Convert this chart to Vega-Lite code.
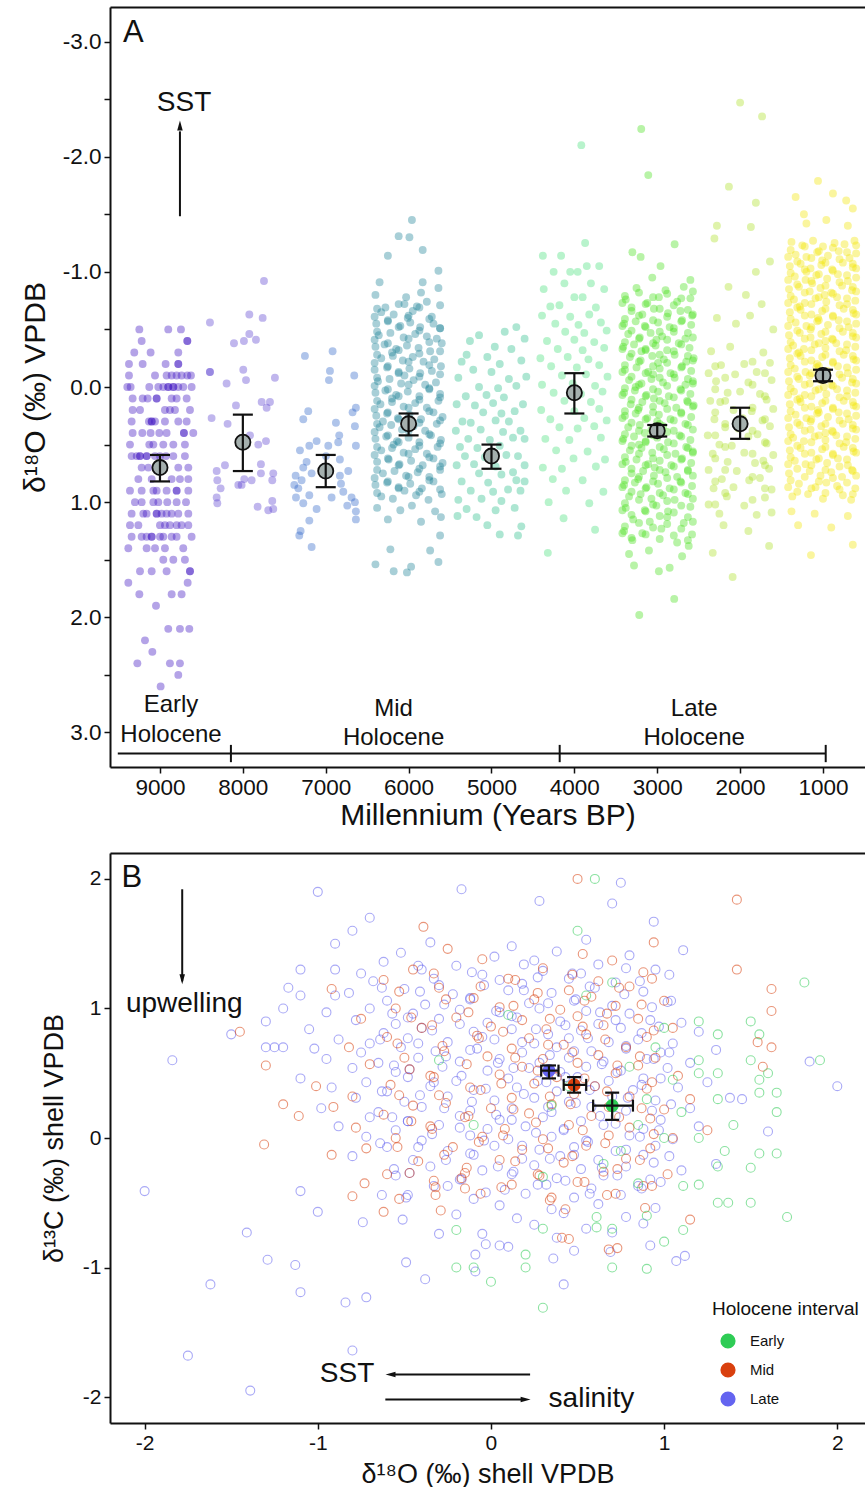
{
"$schema":"https://vega.github.io/schema/vega-lite/v6.json",
"padding":{"left":20,"top":7,"right":0,"bottom":0},
"background":"white",
"config":{"font":"Liberation Sans","view":{"stroke":null},
"axis":{"grid":false,"domainColor":"#111","domainWidth":2,"tickColor":"#111","tickWidth":1.5,"tickSize":6,"labelColor":"#111","titleColor":"#111","labelFontSize":20,"titleFontSize":27,"titleFontWeight":"normal","labelPadding":3,"labelFont":"Liberation Sans","titleFont":"Liberation Sans"},
"legend":{"labelFont":"Liberation Sans","titleFont":"Liberation Sans"}},
"datasets":{
"pa":[
{"m":9,"x":9249,"y":-0.5},{"m":9,"x":8900,"y":-0.5},{"m":9,"x":8747,"y":-0.5},
{"m":9,"x":9221,"y":-0.4},{"m":9,"x":8670,"y":-0.4},{"m":9,"x":8670,"y":-0.4},
{"m":9,"x":9310,"y":-0.3},{"m":9,"x":9113,"y":-0.3},{"m":9,"x":8779,"y":-0.3},
{"m":9,"x":9374,"y":-0.2},{"m":9,"x":9209,"y":-0.2},{"m":9,"x":8932,"y":-0.2},{"m":9,"x":8779,"y":-0.2},{"m":9,"x":8779,"y":-0.2},
{"m":9,"x":9374,"y":-0.1},{"m":9,"x":9060,"y":-0.1},{"m":9,"x":8920,"y":-0.1},{"m":9,"x":8859,"y":-0.1},{"m":9,"x":8799,"y":-0.1},{"m":9,"x":8739,"y":-0.1},{"m":9,"x":8670,"y":-0.1},{"m":9,"x":8626,"y":-0.1},
{"m":9,"x":9394,"y":0},{"m":9,"x":9354,"y":0},{"m":9,"x":9129,"y":0},{"m":9,"x":9020,"y":0},{"m":9,"x":8960,"y":0},{"m":9,"x":8900,"y":0},{"m":9,"x":8900,"y":0},{"m":9,"x":8839,"y":0},{"m":9,"x":8839,"y":0},{"m":9,"x":8779,"y":0},{"m":9,"x":8719,"y":0},{"m":9,"x":8618,"y":0},
{"m":9,"x":9330,"y":0.1},{"m":9,"x":9209,"y":0.1},{"m":9,"x":9149,"y":0.1},{"m":9,"x":9040,"y":0.1},{"m":9,"x":9040,"y":0.1},{"m":9,"x":8859,"y":0.1},{"m":9,"x":8799,"y":0.1},{"m":9,"x":8678,"y":0.1},
{"m":9,"x":9330,"y":0.2},{"m":9,"x":9241,"y":0.2},{"m":9,"x":8940,"y":0.2},{"m":9,"x":8880,"y":0.2},{"m":9,"x":8819,"y":0.2},{"m":9,"x":8638,"y":0.2},
{"m":9,"x":9342,"y":0.3},{"m":9,"x":9133,"y":0.3},{"m":9,"x":9100,"y":0.3},{"m":9,"x":9100,"y":0.3},{"m":9,"x":9060,"y":0.3},{"m":9,"x":8940,"y":0.3},{"m":9,"x":8779,"y":0.3},{"m":9,"x":8678,"y":0.3},
{"m":9,"x":9330,"y":0.4},{"m":9,"x":9213,"y":0.4},{"m":9,"x":9113,"y":0.4},{"m":9,"x":9008,"y":0.4},{"m":9,"x":8920,"y":0.4},{"m":9,"x":8711,"y":0.4},{"m":9,"x":8711,"y":0.4},{"m":9,"x":8598,"y":0.4},
{"m":9,"x":9362,"y":0.5},{"m":9,"x":9129,"y":0.5},{"m":9,"x":9080,"y":0.5},{"m":9,"x":8960,"y":0.5},{"m":9,"x":8839,"y":0.5},{"m":9,"x":8699,"y":0.5},
{"m":9,"x":9342,"y":0.6},{"m":9,"x":9281,"y":0.6},{"m":9,"x":9241,"y":0.6},{"m":9,"x":9241,"y":0.6},{"m":9,"x":9161,"y":0.6},{"m":9,"x":9161,"y":0.6},{"m":9,"x":9060,"y":0.6},{"m":9,"x":9000,"y":0.6},{"m":9,"x":8928,"y":0.6},{"m":9,"x":8839,"y":0.6},{"m":9,"x":8699,"y":0.6},
{"m":9,"x":9221,"y":0.7},{"m":9,"x":9141,"y":0.7},{"m":9,"x":8779,"y":0.7},{"m":9,"x":8658,"y":0.7},
{"m":9,"x":9261,"y":0.8},{"m":9,"x":9100,"y":0.8},{"m":9,"x":8859,"y":0.8},{"m":9,"x":8759,"y":0.8},{"m":9,"x":8658,"y":0.8},
{"m":9,"x":9362,"y":0.9},{"m":9,"x":9221,"y":0.9},{"m":9,"x":9080,"y":0.9},{"m":9,"x":9040,"y":0.9},{"m":9,"x":8920,"y":0.9},{"m":9,"x":8799,"y":0.9},{"m":9,"x":8799,"y":0.9},{"m":9,"x":8658,"y":0.9},
{"m":9,"x":9302,"y":1.0},{"m":9,"x":9221,"y":1.0},{"m":9,"x":9080,"y":1.0},{"m":9,"x":9020,"y":1.0},{"m":9,"x":8912,"y":1.0},{"m":9,"x":8799,"y":1.0},{"m":9,"x":8686,"y":1.0},
{"m":9,"x":9342,"y":1.1},{"m":9,"x":9201,"y":1.1},{"m":9,"x":9161,"y":1.1},{"m":9,"x":9040,"y":1.1},{"m":9,"x":9040,"y":1.1},{"m":9,"x":8980,"y":1.1},{"m":9,"x":8920,"y":1.1},{"m":9,"x":8859,"y":1.1},{"m":9,"x":8779,"y":1.1},{"m":9,"x":8658,"y":1.1},
{"m":9,"x":9362,"y":1.2},{"m":9,"x":9261,"y":1.2},{"m":9,"x":9000,"y":1.2},{"m":9,"x":8940,"y":1.2},{"m":9,"x":8880,"y":1.2},{"m":9,"x":8799,"y":1.2},{"m":9,"x":8739,"y":1.2},{"m":9,"x":8658,"y":1.2},
{"m":9,"x":9342,"y":1.3},{"m":9,"x":9221,"y":1.3},{"m":9,"x":9161,"y":1.3},{"m":9,"x":9100,"y":1.3},{"m":9,"x":9100,"y":1.3},{"m":9,"x":9000,"y":1.3},{"m":9,"x":8960,"y":1.3},{"m":9,"x":8859,"y":1.3},{"m":9,"x":8799,"y":1.3},{"m":9,"x":8618,"y":1.3},
{"m":9,"x":9382,"y":1.4},{"m":9,"x":9161,"y":1.4},{"m":9,"x":9060,"y":1.4},{"m":9,"x":8940,"y":1.4},{"m":9,"x":8719,"y":1.4},
{"m":9,"x":8960,"y":1.5},{"m":9,"x":8839,"y":1.5},{"m":9,"x":8699,"y":1.5},
{"m":9,"x":9241,"y":1.6},{"m":9,"x":9100,"y":1.6},{"m":9,"x":8920,"y":1.6},{"m":9,"x":8638,"y":1.6},{"m":9,"x":8638,"y":1.6},
{"m":9,"x":9382,"y":1.7},{"m":9,"x":8666,"y":1.7},
{"m":9,"x":9249,"y":1.8},{"m":9,"x":8859,"y":1.8},{"m":9,"x":8739,"y":1.8},
{"m":9,"x":9048,"y":1.9},
{"m":9,"x":8900,"y":2.1},{"m":9,"x":8759,"y":2.1},{"m":9,"x":8646,"y":2.1},
{"m":9,"x":9181,"y":2.2},{"m":9,"x":9092,"y":2.3},
{"m":9,"x":9273,"y":2.4},{"m":9,"x":8880,"y":2.4},{"m":9,"x":8759,"y":2.4},
{"m":9,"x":8779,"y":2.5},{"m":9,"x":8992,"y":2.6},
{"m":8,"x":8397,"y":-0.56},{"m":8,"x":7922,"y":-0.63},{"m":8,"x":7761,"y":-0.6},{"m":8,"x":8107,"y":-0.38},{"m":8,"x":7987,"y":-0.4},{"m":8,"x":7922,"y":-0.46},{"m":8,"x":7842,"y":-0.41},{"m":8,"x":8397,"y":-0.13},{"m":8,"x":8397,"y":-0.13},{"m":8,"x":7995,"y":-0.15},{"m":8,"x":7962,"y":-0.06},{"m":8,"x":7613,"y":-0.08},{"m":8,"x":8196,"y":-0.03},{"m":8,"x":8083,"y":0.16},{"m":8,"x":7773,"y":0.13},{"m":8,"x":7673,"y":0.13},{"m":8,"x":7713,"y":0.18},{"m":8,"x":8377,"y":0.27},{"m":8,"x":8184,"y":0.32},{"m":8,"x":7914,"y":0.42},{"m":8,"x":7814,"y":0.5},{"m":8,"x":7721,"y":0.47},{"m":8,"x":7782,"y":0.67},{"m":8,"x":8216,"y":0.68},{"m":8,"x":8316,"y":0.73},{"m":8,"x":7633,"y":0.75},{"m":8,"x":7983,"y":0.8},{"m":8,"x":7894,"y":0.81},{"m":8,"x":8055,"y":0.85},{"m":8,"x":8308,"y":0.81},{"m":8,"x":8268,"y":0.88},{"m":8,"x":7645,"y":0.81},{"m":8,"x":7782,"y":0.75},{"m":8,"x":8316,"y":0.96},{"m":8,"x":8308,"y":1.01},{"m":8,"x":7645,"y":0.99},{"m":8,"x":7822,"y":1.04},{"m":8,"x":7693,"y":1.07},{"m":8,"x":7633,"y":1.06},{"m":8,"x":8015,"y":0.85},{"m":8,"x":7745,"y":-0.92},
{"m":7,"x":7251,"y":-0.27},{"m":7,"x":6917,"y":-0.31},{"m":7,"x":6949,"y":-0.14},{"m":7,"x":6961,"y":-0.06},{"m":7,"x":6656,"y":-0.1},{"m":7,"x":6636,"y":0.18},{"m":7,"x":6676,"y":0.22},{"m":7,"x":7211,"y":0.21},{"m":7,"x":7271,"y":0.28},{"m":7,"x":6877,"y":0.31},{"m":7,"x":6648,"y":0.34},{"m":7,"x":6837,"y":0.42},{"m":7,"x":7110,"y":0.47},{"m":7,"x":7198,"y":0.51},{"m":7,"x":6969,"y":0.51},{"m":7,"x":6636,"y":0.51},{"m":7,"x":6849,"y":0.48},{"m":7,"x":7311,"y":0.55},{"m":7,"x":7231,"y":0.65},{"m":7,"x":7271,"y":0.7},{"m":7,"x":6829,"y":0.63},{"m":7,"x":6728,"y":0.73},{"m":7,"x":7363,"y":0.77},{"m":7,"x":7291,"y":0.81},{"m":7,"x":7170,"y":0.75},{"m":7,"x":7379,"y":0.85},{"m":7,"x":7331,"y":0.88},{"m":7,"x":6816,"y":0.84},{"m":7,"x":6788,"y":0.91},{"m":7,"x":7198,"y":0.94},{"m":7,"x":7359,"y":0.96},{"m":7,"x":6929,"y":0.96},{"m":7,"x":6688,"y":0.96},{"m":7,"x":7271,"y":1.01},{"m":7,"x":6740,"y":1.03},{"m":7,"x":6648,"y":1.0},{"m":7,"x":7110,"y":1.06},{"m":7,"x":6636,"y":1.08},{"m":7,"x":6636,"y":1.15},{"m":7,"x":7198,"y":1.16},{"m":7,"x":7303,"y":1.25},{"m":7,"x":7319,"y":1.29},{"m":7,"x":7170,"y":1.39},{"m":7,"x":6829,"y":0.77},{"m":7,"x":6997,"y":0.6},
{"m":6,"x":5960,"y":-1.45},{"m":6,"x":6120,"y":-1.31},{"m":6,"x":5990,"y":-1.3},{"m":6,"x":5830,"y":-1.19},{"m":6,"x":6250,"y":-1.14},{"m":6,"x":5640,"y":-1.01},{"m":6,"x":5830,"y":-0.91},{"m":6,"x":6350,"y":-0.91},{"m":6,"x":5640,"y":-0.86},{"m":6,"x":6400,"y":-0.8},{"m":6,"x":5850,"y":-0.82},{"m":6,"x":6030,"y":-0.78},
{"m":6,"x":6050,"y":-0.72},{"m":6,"x":5900,"y":-0.7},{"m":6,"x":5780,"y":-0.74},{"m":6,"x":6280,"y":-0.69},
{"m":6,"x":6330,"y":-0.65},{"m":6,"x":6180,"y":-0.63},{"m":6,"x":5950,"y":-0.66},{"m":6,"x":5720,"y":-0.61},{"m":6,"x":6010,"y":-0.6},
{"m":6,"x":6390,"y":-0.55},{"m":6,"x":6250,"y":-0.57},{"m":6,"x":6100,"y":-0.53},{"m":6,"x":5980,"y":-0.56},{"m":6,"x":5860,"y":-0.52},{"m":6,"x":5700,"y":-0.55},{"m":6,"x":5620,"y":-0.51},
{"m":6,"x":6360,"y":-0.45},{"m":6,"x":6220,"y":-0.47},{"m":6,"x":6060,"y":-0.43},{"m":6,"x":5920,"y":-0.46},{"m":6,"x":5780,"y":-0.44},{"m":6,"x":5660,"y":-0.42},
{"m":6,"x":6400,"y":-0.35},{"m":6,"x":6290,"y":-0.37},{"m":6,"x":6150,"y":-0.33},{"m":6,"x":6020,"y":-0.36},{"m":6,"x":5880,"y":-0.34},{"m":6,"x":5740,"y":-0.31},{"m":6,"x":5600,"y":-0.38},{"m":6,"x":6200,"y":-0.3},
{"m":6,"x":6330,"y":-0.25},{"m":6,"x":6190,"y":-0.27},{"m":6,"x":6070,"y":-0.23},{"m":6,"x":5950,"y":-0.26},{"m":6,"x":5820,"y":-0.22},{"m":6,"x":5690,"y":-0.24},
{"m":6,"x":6410,"y":-0.15},{"m":6,"x":6260,"y":-0.17},{"m":6,"x":6120,"y":-0.13},{"m":6,"x":5990,"y":-0.16},{"m":6,"x":5860,"y":-0.12},{"m":6,"x":5720,"y":-0.14},{"m":6,"x":5610,"y":-0.18},{"m":6,"x":6050,"y":-0.1},
{"m":6,"x":6370,"y":-0.05},{"m":6,"x":6230,"y":-0.07},{"m":6,"x":6090,"y":-0.03},{"m":6,"x":5940,"y":-0.06},{"m":6,"x":5800,"y":-0.02},{"m":6,"x":5670,"y":-0.04},
{"m":6,"x":6400,"y":0.05},{"m":6,"x":6280,"y":0.03},{"m":6,"x":6150,"y":0.07},{"m":6,"x":6010,"y":0.04},{"m":6,"x":5870,"y":0.08},{"m":6,"x":5750,"y":0.02},{"m":6,"x":5620,"y":0.06},{"m":6,"x":6200,"y":0.1},
{"m":6,"x":6340,"y":0.15},{"m":6,"x":6200,"y":0.13},{"m":6,"x":6060,"y":0.17},{"m":6,"x":5920,"y":0.14},{"m":6,"x":5780,"y":0.18},{"m":6,"x":5640,"y":0.12},
{"m":6,"x":6390,"y":0.25},{"m":6,"x":6260,"y":0.23},{"m":6,"x":6130,"y":0.27},{"m":6,"x":5990,"y":0.24},{"m":6,"x":5850,"y":0.28},{"m":6,"x":5700,"y":0.22},{"m":6,"x":5590,"y":0.26},{"m":6,"x":6310,"y":0.3},
{"m":6,"x":6350,"y":0.35},{"m":6,"x":6210,"y":0.33},{"m":6,"x":6080,"y":0.37},{"m":6,"x":5940,"y":0.34},{"m":6,"x":5800,"y":0.38},{"m":6,"x":5660,"y":0.32},
{"m":6,"x":6400,"y":0.45},{"m":6,"x":6270,"y":0.43},{"m":6,"x":6140,"y":0.47},{"m":6,"x":6000,"y":0.44},{"m":6,"x":5870,"y":0.48},{"m":6,"x":5730,"y":0.42},{"m":6,"x":5610,"y":0.46},{"m":6,"x":6180,"y":0.5},
{"m":6,"x":6330,"y":0.55},{"m":6,"x":6200,"y":0.53},{"m":6,"x":6060,"y":0.57},{"m":6,"x":5920,"y":0.54},{"m":6,"x":5780,"y":0.58},{"m":6,"x":5650,"y":0.52},
{"m":6,"x":6380,"y":0.65},{"m":6,"x":6240,"y":0.63},{"m":6,"x":6110,"y":0.67},{"m":6,"x":5970,"y":0.64},{"m":6,"x":5830,"y":0.68},{"m":6,"x":5700,"y":0.62},{"m":6,"x":5590,"y":0.66},
{"m":6,"x":6310,"y":0.75},{"m":6,"x":6170,"y":0.73},{"m":6,"x":6030,"y":0.77},{"m":6,"x":5890,"y":0.74},{"m":6,"x":5750,"y":0.78},{"m":6,"x":5620,"y":0.72},
{"m":6,"x":6400,"y":0.85},{"m":6,"x":6260,"y":0.83},{"m":6,"x":6120,"y":0.87},{"m":6,"x":5980,"y":0.84},{"m":6,"x":5840,"y":0.88},{"m":6,"x":5700,"y":0.82},{"m":6,"x":6050,"y":0.9},
{"m":6,"x":6330,"y":0.95},{"m":6,"x":6190,"y":0.97},{"m":6,"x":5910,"y":0.94},{"m":6,"x":5760,"y":0.98},{"m":6,"x":5600,"y":0.93},
{"m":6,"x":6380,"y":1.05},{"m":6,"x":6100,"y":1.07},{"m":6,"x":5960,"y":1.03},{"m":6,"x":5680,"y":1.08},
{"m":6,"x":6250,"y":1.15},{"m":6,"x":5850,"y":1.17},{"m":6,"x":5610,"y":1.13},
{"m":6,"x":5620,"y":1.29},{"m":6,"x":6220,"y":1.41},{"m":6,"x":5740,"y":1.42},{"m":6,"x":5640,"y":1.52},{"m":6,"x":6400,"y":1.54},{"m":6,"x":5970,"y":1.56},{"m":6,"x":6180,"y":1.6},{"m":6,"x":6020,"y":1.61},
{"m":6,"x":6380,"y":-0.68},{"m":6,"x":6120,"y":-0.72},{"m":6,"x":5870,"y":-0.69},{"m":6,"x":5620,"y":-0.71},
{"m":6,"x":6250,"y":-0.58},{"m":6,"x":6000,"y":-0.62},{"m":6,"x":5750,"y":-0.59},{"m":6,"x":6410,"y":-0.61},
{"m":6,"x":6380,"y":-0.48},{"m":6,"x":6120,"y":-0.52},{"m":6,"x":5870,"y":-0.49},{"m":6,"x":5620,"y":-0.51},
{"m":6,"x":6250,"y":-0.38},{"m":6,"x":6000,"y":-0.42},{"m":6,"x":5750,"y":-0.39},{"m":6,"x":6410,"y":-0.41},
{"m":6,"x":6380,"y":-0.28},{"m":6,"x":6120,"y":-0.32},{"m":6,"x":5870,"y":-0.29},{"m":6,"x":5620,"y":-0.31},
{"m":6,"x":6250,"y":-0.18},{"m":6,"x":6000,"y":-0.22},{"m":6,"x":5750,"y":-0.19},{"m":6,"x":6410,"y":-0.21},
{"m":6,"x":6380,"y":-0.08},{"m":6,"x":6120,"y":-0.12},{"m":6,"x":5870,"y":-0.09},{"m":6,"x":5620,"y":-0.11},
{"m":6,"x":6250,"y":0.02},{"m":6,"x":6000,"y":-0.02},{"m":6,"x":5750,"y":0.01},{"m":6,"x":6410,"y":-0.01},
{"m":6,"x":6380,"y":0.12},{"m":6,"x":6120,"y":0.08},{"m":6,"x":5870,"y":0.11},{"m":6,"x":5620,"y":0.09},
{"m":6,"x":6250,"y":0.22},{"m":6,"x":6000,"y":0.18},{"m":6,"x":5750,"y":0.21},{"m":6,"x":6410,"y":0.19},
{"m":6,"x":6380,"y":0.32},{"m":6,"x":6120,"y":0.28},{"m":6,"x":5870,"y":0.31},{"m":6,"x":5620,"y":0.29},
{"m":6,"x":6250,"y":0.42},{"m":6,"x":6000,"y":0.38},{"m":6,"x":5750,"y":0.41},{"m":6,"x":6410,"y":0.39},
{"m":6,"x":6380,"y":0.52},{"m":6,"x":6120,"y":0.48},{"m":6,"x":5870,"y":0.51},{"m":6,"x":5620,"y":0.49},
{"m":6,"x":6250,"y":0.62},{"m":6,"x":6000,"y":0.58},{"m":6,"x":5750,"y":0.61},{"m":6,"x":6410,"y":0.59},
{"m":6,"x":6380,"y":0.72},{"m":6,"x":6120,"y":0.68},{"m":6,"x":5870,"y":0.71},{"m":6,"x":5620,"y":0.69},
{"m":6,"x":6250,"y":0.82},{"m":6,"x":6000,"y":0.78},{"m":6,"x":5750,"y":0.81},{"m":6,"x":6410,"y":0.79},
{"m":6,"x":6380,"y":0.92},{"m":6,"x":6120,"y":0.88},{"m":6,"x":5870,"y":0.91},{"m":6,"x":5620,"y":0.89},
{"m":5,"x":4700,"y":-0.52},{"m":5,"x":4840,"y":-0.48},{"m":5,"x":5150,"y":-0.45},{"m":5,"x":5260,"y":-0.4},{"m":5,"x":4600,"y":-0.42},{"m":5,"x":4960,"y":-0.35},{"m":5,"x":4760,"y":-0.33},{"m":5,"x":5300,"y":-0.28},{"m":5,"x":5050,"y":-0.26},{"m":5,"x":5360,"y":-0.22},{"m":5,"x":4900,"y":-0.2},{"m":5,"x":4640,"y":-0.23},{"m":5,"x":5220,"y":-0.15},{"m":5,"x":5000,"y":-0.13},{"m":5,"x":5400,"y":-0.08},{"m":5,"x":4790,"y":-0.07},{"m":5,"x":4580,"y":-0.09},{"m":5,"x":5150,"y":0},{"m":5,"x":4920,"y":0.01},{"m":5,"x":4700,"y":-0.01},{"m":5,"x":5310,"y":0.08},{"m":5,"x":5060,"y":0.07},{"m":5,"x":4850,"y":0.09},{"m":5,"x":5420,"y":0.15},{"m":5,"x":5200,"y":0.16},{"m":5,"x":4980,"y":0.14},{"m":5,"x":4620,"y":0.15},{"m":5,"x":5100,"y":0.22},{"m":5,"x":4880,"y":0.23},{"m":5,"x":4720,"y":0.21},{"m":5,"x":5350,"y":0.3},{"m":5,"x":5250,"y":0.31},{"m":5,"x":4950,"y":0.29},{"m":5,"x":4790,"y":0.3},{"m":5,"x":5430,"y":0.38},{"m":5,"x":5130,"y":0.37},{"m":5,"x":4860,"y":0.39},{"m":5,"x":4650,"y":0.38},{"m":5,"x":5280,"y":0.45},{"m":5,"x":5020,"y":0.46},{"m":5,"x":4740,"y":0.44},{"m":5,"x":4600,"y":0.45},{"m":5,"x":5380,"y":0.52},{"m":5,"x":5170,"y":0.53},{"m":5,"x":4900,"y":0.51},{"m":5,"x":5320,"y":0.6},{"m":5,"x":5080,"y":0.61},{"m":5,"x":4820,"y":0.59},{"m":5,"x":4680,"y":0.6},{"m":5,"x":5420,"y":0.68},{"m":5,"x":5210,"y":0.67},{"m":5,"x":4950,"y":0.69},{"m":5,"x":4600,"y":0.68},{"m":5,"x":5150,"y":0.75},{"m":5,"x":4880,"y":0.76},{"m":5,"x":4740,"y":0.74},{"m":5,"x":5360,"y":0.82},{"m":5,"x":5040,"y":0.83},{"m":5,"x":4700,"y":0.81},{"m":5,"x":4600,"y":0.82},{"m":5,"x":5250,"y":0.9},{"m":5,"x":4980,"y":0.91},{"m":5,"x":4800,"y":0.89},{"m":5,"x":4650,"y":0.9},{"m":5,"x":5400,"y":0.98},{"m":5,"x":5120,"y":0.97},{"m":5,"x":4880,"y":0.99},{"m":5,"x":5300,"y":1.06},{"m":5,"x":4950,"y":1.07},{"m":5,"x":4720,"y":1.05},{"m":5,"x":5410,"y":1.12},{"m":5,"x":5180,"y":1.13},{"m":5,"x":5050,"y":1.2},{"m":5,"x":4640,"y":1.21},{"m":5,"x":4900,"y":1.28},{"m":5,"x":4680,"y":1.29},
{"m":4,"x":3916,"y":-2.1},{"m":4,"x":3870,"y":-1.25},{"m":4,"x":4380,"y":-1.14},{"m":4,"x":4160,"y":-1.14},{"m":4,"x":3850,"y":-1.05},{"m":4,"x":3700,"y":-1.05},{"m":4,"x":4250,"y":-1.0},{"m":4,"x":4050,"y":-1.0},{"m":4,"x":3960,"y":-1.0},{"m":4,"x":4120,"y":-0.9},{"m":4,"x":3800,"y":-0.9},{"m":4,"x":4370,"y":-0.85},{"m":4,"x":3640,"y":-0.85},{"m":4,"x":4000,"y":-0.78},{"m":4,"x":3900,"y":-0.78},{"m":4,"x":4290,"y":-0.7},{"m":4,"x":4180,"y":-0.71},{"m":4,"x":3740,"y":-0.69},{"m":4,"x":4390,"y":-0.62},{"m":4,"x":4050,"y":-0.61},{"m":4,"x":3820,"y":-0.63},{"m":4,"x":4230,"y":-0.55},{"m":4,"x":3950,"y":-0.54},{"m":4,"x":3680,"y":-0.56},{"m":4,"x":4110,"y":-0.48},{"m":4,"x":3880,"y":-0.47},{"m":4,"x":3610,"y":-0.49},{"m":4,"x":4330,"y":-0.4},{"m":4,"x":4000,"y":-0.41},{"m":4,"x":3760,"y":-0.39},{"m":4,"x":4200,"y":-0.33},{"m":4,"x":3900,"y":-0.32},{"m":4,"x":3640,"y":-0.34},{"m":4,"x":4410,"y":-0.25},{"m":4,"x":4080,"y":-0.26},{"m":4,"x":3830,"y":-0.24},{"m":4,"x":4280,"y":-0.18},{"m":4,"x":3970,"y":-0.17},{"m":4,"x":3700,"y":-0.19},{"m":4,"x":4150,"y":-0.1},{"m":4,"x":3860,"y":-0.11},{"m":4,"x":3600,"y":-0.09},{"m":4,"x":4390,"y":-0.02},{"m":4,"x":4020,"y":-0.03},{"m":4,"x":3750,"y":-0.01},{"m":4,"x":4250,"y":0.05},{"m":4,"x":3920,"y":0.06},{"m":4,"x":3660,"y":0.04},{"m":4,"x":4120,"y":0.12},{"m":4,"x":3800,"y":0.13},{"m":4,"x":4400,"y":0.2},{"m":4,"x":4000,"y":0.21},{"m":4,"x":3700,"y":0.19},{"m":4,"x":4290,"y":0.28},{"m":4,"x":3880,"y":0.27},{"m":4,"x":3610,"y":0.29},{"m":4,"x":4180,"y":0.35},{"m":4,"x":3960,"y":0.36},{"m":4,"x":3760,"y":0.34},{"m":4,"x":4350,"y":0.45},{"m":4,"x":4060,"y":0.46},{"m":4,"x":3680,"y":0.44},{"m":4,"x":4220,"y":0.55},{"m":4,"x":3840,"y":0.56},{"m":4,"x":4010,"y":0.62},{"m":4,"x":3630,"y":0.63},{"m":4,"x":4380,"y":0.7},{"m":4,"x":4150,"y":0.71},{"m":4,"x":3740,"y":0.69},{"m":4,"x":4260,"y":0.8},{"m":4,"x":3900,"y":0.81},{"m":4,"x":4100,"y":0.9},{"m":4,"x":3650,"y":0.91},{"m":4,"x":4310,"y":1.0},{"m":4,"x":3820,"y":1.01},{"m":4,"x":4130,"y":1.14},{"m":4,"x":3750,"y":1.24},{"m":4,"x":4320,"y":1.44},
{"m":3,"x":3193,"y":-2.24},{"m":3,"x":3108,"y":-1.84},{"m":3,"x":2790,"y":-1.24},{"m":3,"x":3300,"y":-1.17},{"m":3,"x":3200,"y":-1.13},{"m":3,"x":2960,"y":-1.05},{"m":3,"x":3060,"y":-0.95},{"m":3,"x":2600,"y":-0.93},{"m":3,"x":3217,"y":1.98},{"m":3,"x":2795,"y":1.84},{"m":3,"x":2980,"y":1.6},{"m":3,"x":3280,"y":1.55},{"m":3,"x":2850,"y":1.57},{"m":3,"x":3340,"y":1.45},{"m":3,"x":2700,"y":1.47},{"m":3,"x":3100,"y":1.42},{"m":3,"x":2620,"y":1.38},
{"m":3,"x":3250,"y":-0.86},{"m":3,"x":2900,"y":-0.84},{"m":3,"x":2680,"y":-0.87},
{"m":3,"x":3380,"y":-0.76},{"m":3,"x":3120,"y":-0.73},{"m":3,"x":2980,"y":-0.78},{"m":3,"x":2760,"y":-0.74},{"m":3,"x":2600,"y":-0.77},
{"m":3,"x":3310,"y":-0.66},{"m":3,"x":3180,"y":-0.63},{"m":3,"x":3040,"y":-0.68},{"m":3,"x":2870,"y":-0.64},{"m":3,"x":2720,"y":-0.66},{"m":3,"x":2580,"y":-0.62},
{"m":3,"x":3400,"y":-0.55},{"m":3,"x":3260,"y":-0.57},{"m":3,"x":3150,"y":-0.53},{"m":3,"x":2990,"y":-0.56},{"m":3,"x":2850,"y":-0.52},{"m":3,"x":2700,"y":-0.58},{"m":3,"x":2590,"y":-0.54},
{"m":3,"x":3350,"y":-0.46},{"m":3,"x":3210,"y":-0.43},{"m":3,"x":3080,"y":-0.47},{"m":3,"x":2940,"y":-0.44},{"m":3,"x":2800,"y":-0.48},{"m":3,"x":2660,"y":-0.42},{"m":3,"x":3010,"y":-0.41},
{"m":3,"x":3410,"y":-0.35},{"m":3,"x":3280,"y":-0.37},{"m":3,"x":3140,"y":-0.33},{"m":3,"x":3020,"y":-0.36},{"m":3,"x":2880,"y":-0.32},{"m":3,"x":2740,"y":-0.38},{"m":3,"x":2610,"y":-0.34},{"m":3,"x":3190,"y":-0.31},
{"m":3,"x":3330,"y":-0.26},{"m":3,"x":3200,"y":-0.23},{"m":3,"x":3060,"y":-0.27},{"m":3,"x":2920,"y":-0.24},{"m":3,"x":2790,"y":-0.28},{"m":3,"x":2650,"y":-0.22},{"m":3,"x":2560,"y":-0.25},{"m":3,"x":2990,"y":-0.21},
{"m":3,"x":3390,"y":-0.15},{"m":3,"x":3250,"y":-0.17},{"m":3,"x":3110,"y":-0.13},{"m":3,"x":2970,"y":-0.16},{"m":3,"x":2840,"y":-0.12},{"m":3,"x":2700,"y":-0.18},{"m":3,"x":2590,"y":-0.14},{"m":3,"x":3050,"y":-0.11},
{"m":3,"x":3340,"y":-0.06},{"m":3,"x":3190,"y":-0.03},{"m":3,"x":3070,"y":-0.07},{"m":3,"x":2930,"y":-0.04},{"m":3,"x":2790,"y":-0.08},{"m":3,"x":2660,"y":-0.02},{"m":3,"x":2570,"y":-0.05},{"m":3,"x":3260,"y":0},
{"m":3,"x":3400,"y":0.05},{"m":3,"x":3270,"y":0.03},{"m":3,"x":3130,"y":0.07},{"m":3,"x":2990,"y":0.04},{"m":3,"x":2860,"y":0.08},{"m":3,"x":2720,"y":0.02},{"m":3,"x":2600,"y":0.06},{"m":3,"x":3040,"y":0.1},
{"m":3,"x":3320,"y":0.15},{"m":3,"x":3180,"y":0.13},{"m":3,"x":3050,"y":0.17},{"m":3,"x":2910,"y":0.14},{"m":3,"x":2770,"y":0.18},{"m":3,"x":2640,"y":0.12},{"m":3,"x":2560,"y":0.16},{"m":3,"x":3230,"y":0.2},
{"m":3,"x":3390,"y":0.25},{"m":3,"x":3260,"y":0.23},{"m":3,"x":3120,"y":0.27},{"m":3,"x":2980,"y":0.24},{"m":3,"x":2840,"y":0.28},{"m":3,"x":2710,"y":0.22},{"m":3,"x":2590,"y":0.26},{"m":3,"x":3000,"y":0.3},
{"m":3,"x":3350,"y":0.35},{"m":3,"x":3210,"y":0.33},{"m":3,"x":3070,"y":0.37},{"m":3,"x":2930,"y":0.34},{"m":3,"x":2800,"y":0.38},{"m":3,"x":2660,"y":0.32},{"m":3,"x":3150,"y":0.4},
{"m":3,"x":3410,"y":0.45},{"m":3,"x":3280,"y":0.43},{"m":3,"x":3140,"y":0.47},{"m":3,"x":3000,"y":0.44},{"m":3,"x":2870,"y":0.48},{"m":3,"x":2730,"y":0.42},{"m":3,"x":2600,"y":0.46},{"m":3,"x":3220,"y":0.5},
{"m":3,"x":3330,"y":0.55},{"m":3,"x":3190,"y":0.53},{"m":3,"x":3060,"y":0.57},{"m":3,"x":2920,"y":0.54},{"m":3,"x":2780,"y":0.58},{"m":3,"x":2650,"y":0.52},{"m":3,"x":2570,"y":0.56},
{"m":3,"x":3380,"y":0.65},{"m":3,"x":3250,"y":0.63},{"m":3,"x":3110,"y":0.67},{"m":3,"x":2970,"y":0.64},{"m":3,"x":2830,"y":0.68},{"m":3,"x":2700,"y":0.62},{"m":3,"x":2590,"y":0.66},{"m":3,"x":3030,"y":0.7},
{"m":3,"x":3310,"y":0.75},{"m":3,"x":3170,"y":0.73},{"m":3,"x":3040,"y":0.77},{"m":3,"x":2900,"y":0.74},{"m":3,"x":2760,"y":0.78},{"m":3,"x":2630,"y":0.72},{"m":3,"x":3230,"y":0.8},
{"m":3,"x":3400,"y":0.85},{"m":3,"x":3270,"y":0.83},{"m":3,"x":3130,"y":0.87},{"m":3,"x":2990,"y":0.84},{"m":3,"x":2850,"y":0.88},{"m":3,"x":2720,"y":0.82},{"m":3,"x":2580,"y":0.86},
{"m":3,"x":3340,"y":0.95},{"m":3,"x":3200,"y":0.93},{"m":3,"x":3070,"y":0.97},{"m":3,"x":2930,"y":0.94},{"m":3,"x":2790,"y":0.98},{"m":3,"x":2660,"y":0.92},
{"m":3,"x":3380,"y":1.05},{"m":3,"x":3150,"y":1.07},{"m":3,"x":3010,"y":1.03},{"m":3,"x":2870,"y":1.08},{"m":3,"x":2600,"y":1.04},
{"m":3,"x":3290,"y":1.15},{"m":3,"x":3090,"y":1.17},{"m":3,"x":2880,"y":1.13},{"m":3,"x":2680,"y":1.18},
{"m":3,"x":3400,"y":1.25},{"m":3,"x":3180,"y":1.27},{"m":3,"x":2950,"y":1.23},{"m":3,"x":2580,"y":1.28},
{"m":3,"x":3300,"y":1.33},{"m":3,"x":2760,"y":1.35},
{"m":3,"x":3390,"y":-0.79},{"m":3,"x":3220,"y":-0.82},{"m":3,"x":3050,"y":-0.78},{"m":3,"x":2880,"y":-0.81},{"m":3,"x":2710,"y":-0.77},{"m":3,"x":2570,"y":-0.83},
{"m":3,"x":3310,"y":-0.69},{"m":3,"x":3140,"y":-0.72},{"m":3,"x":2970,"y":-0.68},{"m":3,"x":2800,"y":-0.71},{"m":3,"x":2630,"y":-0.67},{"m":3,"x":3420,"y":-0.73},
{"m":3,"x":3390,"y":-0.59},{"m":3,"x":3220,"y":-0.62},{"m":3,"x":3050,"y":-0.58},{"m":3,"x":2880,"y":-0.61},{"m":3,"x":2710,"y":-0.57},{"m":3,"x":2570,"y":-0.63},
{"m":3,"x":3310,"y":-0.49},{"m":3,"x":3140,"y":-0.52},{"m":3,"x":2970,"y":-0.48},{"m":3,"x":2800,"y":-0.51},{"m":3,"x":2630,"y":-0.47},{"m":3,"x":3420,"y":-0.53},
{"m":3,"x":3390,"y":-0.39},{"m":3,"x":3220,"y":-0.42},{"m":3,"x":3050,"y":-0.38},{"m":3,"x":2880,"y":-0.41},{"m":3,"x":2710,"y":-0.37},{"m":3,"x":2570,"y":-0.43},
{"m":3,"x":3310,"y":-0.29},{"m":3,"x":3140,"y":-0.32},{"m":3,"x":2970,"y":-0.28},{"m":3,"x":2800,"y":-0.31},{"m":3,"x":2630,"y":-0.27},{"m":3,"x":3420,"y":-0.33},
{"m":3,"x":3390,"y":-0.19},{"m":3,"x":3220,"y":-0.22},{"m":3,"x":3050,"y":-0.18},{"m":3,"x":2880,"y":-0.21},{"m":3,"x":2710,"y":-0.17},{"m":3,"x":2570,"y":-0.23},
{"m":3,"x":3310,"y":-0.09},{"m":3,"x":3140,"y":-0.12},{"m":3,"x":2970,"y":-0.08},{"m":3,"x":2800,"y":-0.11},{"m":3,"x":2630,"y":-0.07},{"m":3,"x":3420,"y":-0.13},
{"m":3,"x":3390,"y":0.01},{"m":3,"x":3220,"y":-0.02},{"m":3,"x":3050,"y":0.02},{"m":3,"x":2880,"y":-0.01},{"m":3,"x":2710,"y":0.03},{"m":3,"x":2570,"y":-0.03},
{"m":3,"x":3310,"y":0.11},{"m":3,"x":3140,"y":0.08},{"m":3,"x":2970,"y":0.12},{"m":3,"x":2800,"y":0.09},{"m":3,"x":2630,"y":0.13},{"m":3,"x":3420,"y":0.07},
{"m":3,"x":3390,"y":0.21},{"m":3,"x":3220,"y":0.18},{"m":3,"x":3050,"y":0.22},{"m":3,"x":2880,"y":0.19},{"m":3,"x":2710,"y":0.23},{"m":3,"x":2570,"y":0.17},
{"m":3,"x":3310,"y":0.31},{"m":3,"x":3140,"y":0.28},{"m":3,"x":2970,"y":0.32},{"m":3,"x":2800,"y":0.29},{"m":3,"x":2630,"y":0.33},{"m":3,"x":3420,"y":0.27},
{"m":3,"x":3390,"y":0.41},{"m":3,"x":3220,"y":0.38},{"m":3,"x":3050,"y":0.42},{"m":3,"x":2880,"y":0.39},{"m":3,"x":2710,"y":0.43},{"m":3,"x":2570,"y":0.37},
{"m":3,"x":3310,"y":0.51},{"m":3,"x":3140,"y":0.48},{"m":3,"x":2970,"y":0.52},{"m":3,"x":2800,"y":0.49},{"m":3,"x":2630,"y":0.53},{"m":3,"x":3420,"y":0.47},
{"m":3,"x":3390,"y":0.61},{"m":3,"x":3220,"y":0.58},{"m":3,"x":3050,"y":0.62},{"m":3,"x":2880,"y":0.59},{"m":3,"x":2710,"y":0.63},{"m":3,"x":2570,"y":0.57},
{"m":3,"x":3310,"y":0.71},{"m":3,"x":3140,"y":0.68},{"m":3,"x":2970,"y":0.72},{"m":3,"x":2800,"y":0.69},{"m":3,"x":2630,"y":0.73},{"m":3,"x":3420,"y":0.67},
{"m":3,"x":3390,"y":0.81},{"m":3,"x":3220,"y":0.78},{"m":3,"x":3050,"y":0.82},{"m":3,"x":2880,"y":0.79},{"m":3,"x":2710,"y":0.83},{"m":3,"x":2570,"y":0.77},
{"m":3,"x":3310,"y":0.91},{"m":3,"x":3140,"y":0.88},{"m":3,"x":2970,"y":0.92},{"m":3,"x":2800,"y":0.89},{"m":3,"x":2630,"y":0.93},{"m":3,"x":3420,"y":0.87},
{"m":3,"x":3390,"y":1.01},{"m":3,"x":3220,"y":0.98},{"m":3,"x":3050,"y":1.02},{"m":3,"x":2880,"y":0.99},{"m":3,"x":2710,"y":1.03},{"m":3,"x":2570,"y":0.97},
{"m":3,"x":3310,"y":1.11},{"m":3,"x":3140,"y":1.08},{"m":3,"x":2970,"y":1.12},{"m":3,"x":2800,"y":1.09},{"m":3,"x":2630,"y":1.13},{"m":3,"x":3420,"y":1.07},
{"m":3,"x":3390,"y":1.21},{"m":3,"x":3220,"y":1.18},{"m":3,"x":3050,"y":1.22},{"m":3,"x":2880,"y":1.19},{"m":3,"x":2710,"y":1.23},{"m":3,"x":2570,"y":1.17},
{"m":3,"x":3310,"y":1.31},{"m":3,"x":3140,"y":1.28},{"m":3,"x":2970,"y":1.32},{"m":3,"x":2800,"y":1.29},{"m":3,"x":2630,"y":1.33},{"m":3,"x":3420,"y":1.27},
{"m":2,"x":2000,"y":-2.47},{"m":2,"x":1735,"y":-2.35},{"m":2,"x":2135,"y":-1.74},{"m":2,"x":1810,"y":-1.6},{"m":2,"x":2280,"y":-1.4},{"m":2,"x":1870,"y":-1.39},{"m":2,"x":2310,"y":-1.29},{"m":2,"x":1640,"y":-1.09},{"m":2,"x":1810,"y":-1.0},{"m":2,"x":2140,"y":-0.87},{"m":2,"x":1930,"y":-0.8},{"m":2,"x":1740,"y":-0.72},{"m":2,"x":2280,"y":-0.6},{"m":2,"x":1880,"y":-0.62},{"m":2,"x":2050,"y":-0.55},{"m":2,"x":1600,"y":-0.5},{"m":2,"x":2330,"y":1.44},{"m":2,"x":2090,"y":1.65},{"m":2,"x":1650,"y":1.38},{"m":2,"x":1900,"y":1.25},{"m":2,"x":2200,"y":1.2},
{"m":2,"x":2120,"y":-0.35},{"m":2,"x":1720,"y":-0.3},{"m":2,"x":2350,"y":-0.31},{"m":2,"x":1950,"y":-0.2},{"m":2,"x":1640,"y":-0.21},{"m":2,"x":2230,"y":-0.19},{"m":2,"x":2380,"y":-0.12},{"m":2,"x":2060,"y":-0.11},{"m":2,"x":1800,"y":-0.13},{"m":2,"x":2290,"y":-0.05},{"m":2,"x":1900,"y":-0.04},{"m":2,"x":1620,"y":-0.06},{"m":2,"x":2150,"y":0.05},{"m":2,"x":1760,"y":0.06},{"m":2,"x":2000,"y":0.04},{"m":2,"x":2360,"y":0.12},{"m":2,"x":2240,"y":0.13},{"m":2,"x":1680,"y":0.11},{"m":2,"x":2080,"y":0.2},{"m":2,"x":1860,"y":0.21},{"m":2,"x":1600,"y":0.19},{"m":2,"x":2310,"y":0.28},{"m":2,"x":1970,"y":0.27},{"m":2,"x":1730,"y":0.29},{"m":2,"x":2180,"y":0.35},{"m":2,"x":2020,"y":0.36},{"m":2,"x":1640,"y":0.34},{"m":2,"x":2390,"y":0.42},{"m":2,"x":1900,"y":0.43},{"m":2,"x":1790,"y":0.41},{"m":2,"x":2250,"y":0.5},{"m":2,"x":2100,"y":0.51},{"m":2,"x":1680,"y":0.49},{"m":2,"x":2330,"y":0.58},{"m":2,"x":1950,"y":0.57},{"m":2,"x":1600,"y":0.59},{"m":2,"x":2150,"y":0.65},{"m":2,"x":1820,"y":0.66},{"m":2,"x":1720,"y":0.64},{"m":2,"x":2380,"y":0.72},{"m":2,"x":2040,"y":0.73},{"m":2,"x":1650,"y":0.71},{"m":2,"x":2220,"y":0.8},{"m":2,"x":1890,"y":0.81},{"m":2,"x":1760,"y":0.79},{"m":2,"x":2320,"y":0.88},{"m":2,"x":2080,"y":0.87},{"m":2,"x":1620,"y":0.89},{"m":2,"x":2160,"y":0.95},{"m":2,"x":1700,"y":0.96},{"m":2,"x":2380,"y":1.02},{"m":2,"x":1950,"y":1.03},{"m":2,"x":2250,"y":1.1},{"m":2,"x":1800,"y":1.11},{"m":2,"x":1620,"y":1.09},
{"m":2,"x":2300,"y":-0.18},{"m":2,"x":1850,"y":-0.22},{"m":2,"x":2180,"y":-0.08},{"m":2,"x":1700,"y":-0.12},{"m":2,"x":2300,"y":0.02},{"m":2,"x":1850,"y":-0.02},{"m":2,"x":2180,"y":0.12},{"m":2,"x":1700,"y":0.08},{"m":2,"x":2300,"y":0.22},{"m":2,"x":1850,"y":0.18},{"m":2,"x":2180,"y":0.32},{"m":2,"x":1700,"y":0.28},{"m":2,"x":2300,"y":0.42},{"m":2,"x":1850,"y":0.38},{"m":2,"x":2180,"y":0.52},{"m":2,"x":1700,"y":0.48},{"m":2,"x":2300,"y":0.62},{"m":2,"x":1850,"y":0.58},{"m":2,"x":2180,"y":0.72},{"m":2,"x":1700,"y":0.68},{"m":2,"x":2300,"y":0.82},{"m":2,"x":1850,"y":0.78},{"m":2,"x":2180,"y":0.92},{"m":2,"x":1700,"y":0.88},{"m":2,"x":2300,"y":1.02},{"m":2,"x":1850,"y":0.98},
{"m":1,"x":1060,"y":-1.79},{"m":1,"x":880,"y":-1.68},{"m":1,"x":1330,"y":-1.65},{"m":1,"x":720,"y":-1.62},{"m":1,"x":640,"y":-1.55},{"m":1,"x":1230,"y":-1.5},{"m":1,"x":1200,"y":-1.42},{"m":1,"x":700,"y":-1.4},{"m":1,"x":960,"y":-1.45},{"m":1,"x":1145,"y":1.46},{"m":1,"x":640,"y":1.37},{"m":1,"x":1300,"y":1.2},{"m":1,"x":900,"y":1.22},{"m":1,"x":1100,"y":1.1},{"m":1,"x":700,"y":1.12},{"m":1,"x":1380,"y":1.08},
{"m":1,"x":1380,"y":-1.26},{"m":1,"x":1250,"y":-1.23},{"m":1,"x":1120,"y":-1.27},{"m":1,"x":1000,"y":-1.22},{"m":1,"x":860,"y":-1.25},{"m":1,"x":740,"y":-1.24},{"m":1,"x":620,"y":-1.27},
{"m":1,"x":1330,"y":-1.15},{"m":1,"x":1200,"y":-1.13},{"m":1,"x":1070,"y":-1.17},{"m":1,"x":940,"y":-1.14},{"m":1,"x":810,"y":-1.18},{"m":1,"x":680,"y":-1.12},{"m":1,"x":600,"y":-1.16},{"m":1,"x":1010,"y":-1.1},
{"m":1,"x":1400,"y":-1.05},{"m":1,"x":1270,"y":-1.07},{"m":1,"x":1150,"y":-1.03},{"m":1,"x":1020,"y":-1.06},{"m":1,"x":890,"y":-1.02},{"m":1,"x":760,"y":-1.08},{"m":1,"x":640,"y":-1.04},{"m":1,"x":1200,"y":-1.0},
{"m":1,"x":1340,"y":-0.96},{"m":1,"x":1210,"y":-0.93},{"m":1,"x":1080,"y":-0.97},{"m":1,"x":950,"y":-0.94},{"m":1,"x":820,"y":-0.98},{"m":1,"x":700,"y":-0.92},{"m":1,"x":600,"y":-0.95},{"m":1,"x":1130,"y":-0.9},
{"m":1,"x":1410,"y":-0.85},{"m":1,"x":1290,"y":-0.87},{"m":1,"x":1160,"y":-0.83},{"m":1,"x":1030,"y":-0.86},{"m":1,"x":900,"y":-0.82},{"m":1,"x":770,"y":-0.88},{"m":1,"x":650,"y":-0.84},{"m":1,"x":980,"y":-0.8},
{"m":1,"x":1350,"y":-0.76},{"m":1,"x":1220,"y":-0.73},{"m":1,"x":1090,"y":-0.77},{"m":1,"x":960,"y":-0.74},{"m":1,"x":830,"y":-0.78},{"m":1,"x":710,"y":-0.72},{"m":1,"x":610,"y":-0.75},{"m":1,"x":1280,"y":-0.7},
{"m":1,"x":1400,"y":-0.65},{"m":1,"x":1270,"y":-0.67},{"m":1,"x":1140,"y":-0.63},{"m":1,"x":1010,"y":-0.66},{"m":1,"x":880,"y":-0.62},{"m":1,"x":750,"y":-0.68},{"m":1,"x":630,"y":-0.64},{"m":1,"x":1060,"y":-0.6},
{"m":1,"x":1330,"y":-0.56},{"m":1,"x":1200,"y":-0.53},{"m":1,"x":1070,"y":-0.57},{"m":1,"x":940,"y":-0.54},{"m":1,"x":810,"y":-0.58},{"m":1,"x":690,"y":-0.52},{"m":1,"x":600,"y":-0.55},{"m":1,"x":1150,"y":-0.5},
{"m":1,"x":1410,"y":-0.45},{"m":1,"x":1280,"y":-0.47},{"m":1,"x":1150,"y":-0.43},{"m":1,"x":1020,"y":-0.46},{"m":1,"x":890,"y":-0.42},{"m":1,"x":760,"y":-0.48},{"m":1,"x":640,"y":-0.44},{"m":1,"x":970,"y":-0.4},
{"m":1,"x":1360,"y":-0.36},{"m":1,"x":1230,"y":-0.33},{"m":1,"x":1100,"y":-0.37},{"m":1,"x":970,"y":-0.34},{"m":1,"x":840,"y":-0.38},{"m":1,"x":720,"y":-0.32},{"m":1,"x":610,"y":-0.35},{"m":1,"x":1290,"y":-0.3},
{"m":1,"x":1400,"y":-0.25},{"m":1,"x":1270,"y":-0.27},{"m":1,"x":1140,"y":-0.23},{"m":1,"x":1010,"y":-0.26},{"m":1,"x":880,"y":-0.22},{"m":1,"x":750,"y":-0.28},{"m":1,"x":630,"y":-0.24},{"m":1,"x":1070,"y":-0.2},
{"m":1,"x":1340,"y":-0.16},{"m":1,"x":1210,"y":-0.13},{"m":1,"x":1080,"y":-0.17},{"m":1,"x":950,"y":-0.14},{"m":1,"x":820,"y":-0.18},{"m":1,"x":700,"y":-0.12},{"m":1,"x":600,"y":-0.15},{"m":1,"x":1160,"y":-0.1},
{"m":1,"x":1410,"y":-0.05},{"m":1,"x":1290,"y":-0.07},{"m":1,"x":1160,"y":-0.03},{"m":1,"x":1030,"y":-0.06},{"m":1,"x":900,"y":-0.02},{"m":1,"x":770,"y":-0.08},{"m":1,"x":650,"y":-0.04},{"m":1,"x":990,"y":0},
{"m":1,"x":1350,"y":0.04},{"m":1,"x":1220,"y":0.07},{"m":1,"x":1090,"y":0.03},{"m":1,"x":960,"y":0.06},{"m":1,"x":830,"y":0.02},{"m":1,"x":710,"y":0.08},{"m":1,"x":610,"y":0.05},{"m":1,"x":1280,"y":0.1},
{"m":1,"x":1400,"y":0.15},{"m":1,"x":1270,"y":0.13},{"m":1,"x":1140,"y":0.17},{"m":1,"x":1010,"y":0.14},{"m":1,"x":880,"y":0.18},{"m":1,"x":750,"y":0.12},{"m":1,"x":630,"y":0.16},{"m":1,"x":1060,"y":0.2},
{"m":1,"x":1330,"y":0.24},{"m":1,"x":1200,"y":0.27},{"m":1,"x":1070,"y":0.23},{"m":1,"x":940,"y":0.26},{"m":1,"x":810,"y":0.22},{"m":1,"x":690,"y":0.28},{"m":1,"x":600,"y":0.25},{"m":1,"x":1150,"y":0.3},
{"m":1,"x":1410,"y":0.35},{"m":1,"x":1280,"y":0.33},{"m":1,"x":1150,"y":0.37},{"m":1,"x":1020,"y":0.34},{"m":1,"x":890,"y":0.38},{"m":1,"x":760,"y":0.32},{"m":1,"x":640,"y":0.36},{"m":1,"x":970,"y":0.4},
{"m":1,"x":1360,"y":0.44},{"m":1,"x":1230,"y":0.47},{"m":1,"x":1100,"y":0.43},{"m":1,"x":970,"y":0.46},{"m":1,"x":840,"y":0.42},{"m":1,"x":720,"y":0.48},{"m":1,"x":610,"y":0.45},
{"m":1,"x":1400,"y":0.55},{"m":1,"x":1270,"y":0.53},{"m":1,"x":1140,"y":0.57},{"m":1,"x":1010,"y":0.54},{"m":1,"x":880,"y":0.58},{"m":1,"x":750,"y":0.52},{"m":1,"x":630,"y":0.56},
{"m":1,"x":1340,"y":0.64},{"m":1,"x":1210,"y":0.67},{"m":1,"x":1080,"y":0.63},{"m":1,"x":950,"y":0.66},{"m":1,"x":820,"y":0.62},{"m":1,"x":700,"y":0.68},
{"m":1,"x":1410,"y":0.75},{"m":1,"x":1160,"y":0.73},{"m":1,"x":1030,"y":0.77},{"m":1,"x":900,"y":0.74},{"m":1,"x":770,"y":0.78},{"m":1,"x":650,"y":0.72},
{"m":1,"x":1290,"y":0.84},{"m":1,"x":1090,"y":0.87},{"m":1,"x":960,"y":0.83},{"m":1,"x":830,"y":0.86},{"m":1,"x":610,"y":0.88},
{"m":1,"x":1370,"y":0.95},{"m":1,"x":1180,"y":0.93},{"m":1,"x":1000,"y":0.97},{"m":1,"x":760,"y":0.94},{"m":1,"x":660,"y":0.98},
{"m":1,"x":1390,"y":-1.19},{"m":1,"x":1220,"y":-1.22},{"m":1,"x":1050,"y":-1.18},{"m":1,"x":880,"y":-1.21},{"m":1,"x":710,"y":-1.17},{"m":1,"x":600,"y":-1.23},
{"m":1,"x":1310,"y":-1.09},{"m":1,"x":1140,"y":-1.12},{"m":1,"x":970,"y":-1.08},{"m":1,"x":800,"y":-1.11},{"m":1,"x":640,"y":-1.07},{"m":1,"x":1420,"y":-1.13},
{"m":1,"x":1390,"y":-0.99},{"m":1,"x":1220,"y":-1.02},{"m":1,"x":1050,"y":-0.98},{"m":1,"x":880,"y":-1.01},{"m":1,"x":710,"y":-0.97},{"m":1,"x":600,"y":-1.03},
{"m":1,"x":1310,"y":-0.89},{"m":1,"x":1140,"y":-0.92},{"m":1,"x":970,"y":-0.88},{"m":1,"x":800,"y":-0.91},{"m":1,"x":640,"y":-0.87},{"m":1,"x":1420,"y":-0.93},
{"m":1,"x":1390,"y":-0.79},{"m":1,"x":1220,"y":-0.82},{"m":1,"x":1050,"y":-0.78},{"m":1,"x":880,"y":-0.81},{"m":1,"x":710,"y":-0.77},{"m":1,"x":600,"y":-0.83},
{"m":1,"x":1310,"y":-0.69},{"m":1,"x":1140,"y":-0.72},{"m":1,"x":970,"y":-0.68},{"m":1,"x":800,"y":-0.71},{"m":1,"x":640,"y":-0.67},{"m":1,"x":1420,"y":-0.73},
{"m":1,"x":1390,"y":-0.59},{"m":1,"x":1220,"y":-0.62},{"m":1,"x":1050,"y":-0.58},{"m":1,"x":880,"y":-0.61},{"m":1,"x":710,"y":-0.57},{"m":1,"x":600,"y":-0.63},
{"m":1,"x":1310,"y":-0.49},{"m":1,"x":1140,"y":-0.52},{"m":1,"x":970,"y":-0.48},{"m":1,"x":800,"y":-0.51},{"m":1,"x":640,"y":-0.47},{"m":1,"x":1420,"y":-0.53},
{"m":1,"x":1390,"y":-0.39},{"m":1,"x":1220,"y":-0.42},{"m":1,"x":1050,"y":-0.38},{"m":1,"x":880,"y":-0.41},{"m":1,"x":710,"y":-0.37},{"m":1,"x":600,"y":-0.43},
{"m":1,"x":1310,"y":-0.29},{"m":1,"x":1140,"y":-0.32},{"m":1,"x":970,"y":-0.28},{"m":1,"x":800,"y":-0.31},{"m":1,"x":640,"y":-0.27},{"m":1,"x":1420,"y":-0.33},
{"m":1,"x":1390,"y":-0.19},{"m":1,"x":1220,"y":-0.22},{"m":1,"x":1050,"y":-0.18},{"m":1,"x":880,"y":-0.21},{"m":1,"x":710,"y":-0.17},{"m":1,"x":600,"y":-0.23},
{"m":1,"x":1310,"y":-0.09},{"m":1,"x":1140,"y":-0.12},{"m":1,"x":970,"y":-0.08},{"m":1,"x":800,"y":-0.11},{"m":1,"x":640,"y":-0.07},{"m":1,"x":1420,"y":-0.13},
{"m":1,"x":1390,"y":0.01},{"m":1,"x":1220,"y":-0.02},{"m":1,"x":1050,"y":0.02},{"m":1,"x":880,"y":-0.01},{"m":1,"x":710,"y":0.03},{"m":1,"x":600,"y":-0.03},
{"m":1,"x":1310,"y":0.11},{"m":1,"x":1140,"y":0.08},{"m":1,"x":970,"y":0.12},{"m":1,"x":800,"y":0.09},{"m":1,"x":640,"y":0.13},{"m":1,"x":1420,"y":0.07},
{"m":1,"x":1390,"y":0.21},{"m":1,"x":1220,"y":0.18},{"m":1,"x":1050,"y":0.22},{"m":1,"x":880,"y":0.19},{"m":1,"x":710,"y":0.23},{"m":1,"x":600,"y":0.17},
{"m":1,"x":1310,"y":0.31},{"m":1,"x":1140,"y":0.28},{"m":1,"x":970,"y":0.32},{"m":1,"x":800,"y":0.29},{"m":1,"x":640,"y":0.33},{"m":1,"x":1420,"y":0.27},
{"m":1,"x":1390,"y":0.41},{"m":1,"x":1220,"y":0.38},{"m":1,"x":1050,"y":0.42},{"m":1,"x":880,"y":0.39},{"m":1,"x":710,"y":0.43},{"m":1,"x":600,"y":0.37},
{"m":1,"x":1310,"y":0.51},{"m":1,"x":1140,"y":0.48},{"m":1,"x":970,"y":0.52},{"m":1,"x":800,"y":0.49},{"m":1,"x":640,"y":0.53},{"m":1,"x":1420,"y":0.47},
{"m":1,"x":1390,"y":0.61},{"m":1,"x":1220,"y":0.58},{"m":1,"x":1050,"y":0.62},{"m":1,"x":880,"y":0.59},{"m":1,"x":710,"y":0.63},{"m":1,"x":600,"y":0.57},
{"m":1,"x":1310,"y":0.71},{"m":1,"x":1140,"y":0.68},{"m":1,"x":970,"y":0.72},{"m":1,"x":800,"y":0.69},{"m":1,"x":640,"y":0.73},{"m":1,"x":1420,"y":0.67},
{"m":1,"x":1390,"y":0.81},{"m":1,"x":1220,"y":0.78},{"m":1,"x":1050,"y":0.82},{"m":1,"x":880,"y":0.79},{"m":1,"x":710,"y":0.83},{"m":1,"x":600,"y":0.77},
{"m":1,"x":1310,"y":0.91},{"m":1,"x":1140,"y":0.88},{"m":1,"x":970,"y":0.92},{"m":1,"x":800,"y":0.89},{"m":1,"x":640,"y":0.93},{"m":1,"x":1420,"y":0.87}
],
"sa":[{"x":9000,"mean":0.7,"lo":0.59,"hi":0.82},{"x":8000,"mean":0.48,"lo":0.24,"hi":0.73},{"x":7000,"mean":0.73,"lo":0.59,"hi":0.87},{"x":6000,"mean":0.32,"lo":0.23,"hi":0.42},{"x":5000,"mean":0.6,"lo":0.5,"hi":0.71},{"x":4000,"mean":0.05,"lo":-0.12,"hi":0.23},{"x":3000,"mean":0.38,"lo":0.33,"hi":0.43},{"x":2000,"mean":0.32,"lo":0.18,"hi":0.45},{"x":1000,"mean":-0.1,"lo":-0.15,"hi":-0.05}],
"pb":[
{"g":"Late","x":-2.0,"y":-0.41},{"g":"Late","x":-1.75,"y":-1.68},{"g":"Late","x":-1.62,"y":-1.13},{"g":"Late","x":-1.39,"y":-1.95},{"g":"Late","x":-1.41,"y":-0.73},{"g":"Late","x":-1.29,"y":-0.94},{"g":"Late","x":-1.13,"y":-0.98},{"g":"Late","x":-1.1,"y":-1.19},{"g":"Late","x":-1.1,"y":-0.41},{"g":"Late","x":-1.0,"y":-0.57},{"g":"Late","x":-0.84,"y":-1.27},{"g":"Late","x":-0.72,"y":-1.23},{"g":"Late","x":-0.8,"y":-1.64},{"g":"Late","x":-0.74,"y":-0.65},{"g":"Late","x":-0.51,"y":-0.63},{"g":"Late","x":-0.49,"y":-0.96},{"g":"Late","x":-0.38,"y":-1.09},{"g":"Late","x":-0.49,"y":-0.46},{"g":"Late","x":-0.3,"y":-0.74},{"g":"Late","x":-0.03,"y":-0.82},{"g":"Late","x":-0.09,"y":-0.9},{"g":"Late","x":-0.09,"y":-1.03},{"g":"Late","x":0.42,"y":-1.13},{"g":"Late","x":1.12,"y":-0.91},{"g":"Late","x":1.07,"y":-0.95},{"g":"Late","x":0.36,"y":-0.93},{"g":"Late","x":0.05,"y":-0.83},{"g":"Late","x":0.69,"y":-0.88},
{"g":"Late","x":-1.0,"y":1.9},{"g":"Late","x":-0.17,"y":1.92},{"g":"Late","x":0.28,"y":1.83},{"g":"Late","x":0.75,"y":1.97},{"g":"Late","x":0.7,"y":1.81},{"g":"Late","x":-0.7,"y":1.7},{"g":"Late","x":-0.8,"y":1.6},{"g":"Late","x":-0.9,"y":1.5},{"g":"Late","x":0.94,"y":1.67},{"g":"Late","x":1.11,"y":1.45},{"g":"Late","x":-1.1,"y":1.3},{"g":"Late","x":-0.9,"y":1.3},{"g":"Late","x":-1.17,"y":1.16},{"g":"Late","x":-1.1,"y":1.1},{"g":"Late","x":-0.9,"y":1.1},{"g":"Late","x":-1.2,"y":1.0},{"g":"Late","x":-1.3,"y":0.9},{"g":"Late","x":-1.5,"y":0.8},{"g":"Late","x":-1.84,"y":0.6},{"g":"Late","x":-1.3,"y":0.7},{"g":"Late","x":-1.25,"y":0.7},{"g":"Late","x":-1.2,"y":0.7},{"g":"Late","x":2.0,"y":0.4},{"g":"Late","x":1.84,"y":0.59},{"g":"Late","x":1.45,"y":0.3},{"g":"Late","x":1.6,"y":0.05},{"g":"Late","x":1.3,"y":-0.2},
{"g":"Late","x":-0.35,"y":1.51},{"g":"Late","x":0.12,"y":1.48},{"g":"Late","x":0.55,"y":1.53},
{"g":"Late","x":-0.52,"y":1.43},{"g":"Late","x":0.02,"y":1.4},{"g":"Late","x":0.38,"y":1.44},{"g":"Late","x":0.8,"y":1.41},
{"g":"Late","x":-0.62,"y":1.36},{"g":"Late","x":-0.2,"y":1.33},{"g":"Late","x":0.25,"y":1.37},{"g":"Late","x":0.62,"y":1.34},
{"g":"Late","x":-0.75,"y":1.27},{"g":"Late","x":-0.4,"y":1.3},{"g":"Late","x":-0.05,"y":1.26},{"g":"Late","x":0.3,"y":1.29},{"g":"Late","x":0.52,"y":1.27},{"g":"Late","x":0.95,"y":1.3},
{"g":"Late","x":-0.68,"y":1.21},{"g":"Late","x":-0.3,"y":1.18},{"g":"Late","x":0.05,"y":1.22},{"g":"Late","x":0.18,"y":1.19},{"g":"Late","x":0.45,"y":1.23},{"g":"Late","x":0.72,"y":1.2},
{"g":"Late","x":-0.82,"y":1.12},{"g":"Late","x":-0.5,"y":1.15},{"g":"Late","x":-0.22,"y":1.11},{"g":"Late","x":0.1,"y":1.14},{"g":"Late","x":0.35,"y":1.12},{"g":"Late","x":0.6,"y":1.16},{"g":"Late","x":0.88,"y":1.13},
{"g":"Late","x":-0.6,"y":1.06},{"g":"Late","x":-0.38,"y":1.03},{"g":"Late","x":-0.12,"y":1.07},{"g":"Late","x":0.22,"y":1.04},{"g":"Late","x":0.48,"y":1.06},{"g":"Late","x":0.7,"y":1.02},{"g":"Late","x":1.02,"y":1.05},
{"g":"Late","x":-0.95,"y":0.97},{"g":"Late","x":-0.7,"y":1.0},{"g":"Late","x":-0.45,"y":0.96},{"g":"Late","x":-0.18,"y":0.99},{"g":"Late","x":0.05,"y":0.97},{"g":"Late","x":0.28,"y":1.0},{"g":"Late","x":0.55,"y":0.98},{"g":"Late","x":0.8,"y":0.96},
{"g":"Late","x":-0.78,"y":0.91},{"g":"Late","x":-0.55,"y":0.88},{"g":"Late","x":-0.3,"y":0.92},{"g":"Late","x":-0.02,"y":0.89},{"g":"Late","x":0.15,"y":0.93},{"g":"Late","x":0.4,"y":0.9},{"g":"Late","x":0.62,"y":0.88},{"g":"Late","x":0.92,"y":0.91},{"g":"Late","x":1.1,"y":0.89},
{"g":"Late","x":-1.05,"y":0.84},{"g":"Late","x":-0.62,"y":0.81},{"g":"Late","x":-0.4,"y":0.85},{"g":"Late","x":-0.1,"y":0.82},{"g":"Late","x":0.12,"y":0.84},{"g":"Late","x":0.33,"y":0.8},{"g":"Late","x":0.52,"y":0.83},{"g":"Late","x":0.75,"y":0.85},{"g":"Late","x":1.2,"y":0.82},
{"g":"Late","x":-0.88,"y":0.76},{"g":"Late","x":-0.7,"y":0.73},{"g":"Late","x":-0.48,"y":0.77},{"g":"Late","x":-0.25,"y":0.74},{"g":"Late","x":0.02,"y":0.76},{"g":"Late","x":0.25,"y":0.73},{"g":"Late","x":0.45,"y":0.77},{"g":"Late","x":0.68,"y":0.74},{"g":"Late","x":0.85,"y":0.76},{"g":"Late","x":1.05,"y":0.73},
{"g":"Late","x":-1.02,"y":0.69},{"g":"Late","x":-0.75,"y":0.66},{"g":"Late","x":-0.52,"y":0.7},{"g":"Late","x":-0.32,"y":0.67},{"g":"Late","x":-0.08,"y":0.69},{"g":"Late","x":0.18,"y":0.66},{"g":"Late","x":0.38,"y":0.7},{"g":"Late","x":0.58,"y":0.67},{"g":"Late","x":0.78,"y":0.69},{"g":"Late","x":0.98,"y":0.66},{"g":"Late","x":1.3,"y":0.68},
{"g":"Late","x":-0.95,"y":0.61},{"g":"Late","x":-0.65,"y":0.58},{"g":"Late","x":-0.42,"y":0.62},{"g":"Late","x":-0.18,"y":0.59},{"g":"Late","x":0.05,"y":0.61},{"g":"Late","x":0.28,"y":0.58},{"g":"Late","x":0.45,"y":0.62},{"g":"Late","x":0.65,"y":0.59},{"g":"Late","x":0.9,"y":0.61},{"g":"Late","x":1.15,"y":0.58},
{"g":"Late","x":-0.8,"y":0.54},{"g":"Late","x":-0.55,"y":0.51},{"g":"Late","x":-0.28,"y":0.55},{"g":"Late","x":-0.02,"y":0.52},{"g":"Late","x":0.22,"y":0.54},{"g":"Late","x":0.4,"y":0.51},{"g":"Late","x":0.55,"y":0.55},{"g":"Late","x":0.75,"y":0.52},{"g":"Late","x":1.02,"y":0.54},
{"g":"Late","x":-1.1,"y":0.46},{"g":"Late","x":-0.72,"y":0.43},{"g":"Late","x":-0.48,"y":0.47},{"g":"Late","x":-0.2,"y":0.44},{"g":"Late","x":0.1,"y":0.46},{"g":"Late","x":0.32,"y":0.43},{"g":"Late","x":0.5,"y":0.47},{"g":"Late","x":0.68,"y":0.44},{"g":"Late","x":0.88,"y":0.46},{"g":"Late","x":1.25,"y":0.43},
{"g":"Late","x":-0.92,"y":0.39},{"g":"Late","x":-0.6,"y":0.36},{"g":"Late","x":-0.35,"y":0.4},{"g":"Late","x":-0.1,"y":0.37},{"g":"Late","x":0.15,"y":0.39},{"g":"Late","x":0.38,"y":0.36},{"g":"Late","x":0.6,"y":0.4},{"g":"Late","x":0.82,"y":0.37},{"g":"Late","x":1.08,"y":0.39},
{"g":"Late","x":-0.78,"y":0.31},{"g":"Late","x":-0.5,"y":0.28},{"g":"Late","x":-0.25,"y":0.32},{"g":"Late","x":0.02,"y":0.29},{"g":"Late","x":0.25,"y":0.31},{"g":"Late","x":0.45,"y":0.28},{"g":"Late","x":0.7,"y":0.32},{"g":"Late","x":0.95,"y":0.29},{"g":"Late","x":1.38,"y":0.31},
{"g":"Late","x":-0.98,"y":0.23},{"g":"Late","x":-0.65,"y":0.2},{"g":"Late","x":-0.4,"y":0.24},{"g":"Late","x":-0.12,"y":0.21},{"g":"Late","x":0.12,"y":0.23},{"g":"Late","x":0.35,"y":0.2},{"g":"Late","x":0.58,"y":0.24},{"g":"Late","x":0.78,"y":0.21},{"g":"Late","x":1.15,"y":0.23},
{"g":"Late","x":-0.7,"y":0.16},{"g":"Late","x":-0.48,"y":0.13},{"g":"Late","x":-0.18,"y":0.17},{"g":"Late","x":0.05,"y":0.14},{"g":"Late","x":0.3,"y":0.16},{"g":"Late","x":0.52,"y":0.13},{"g":"Late","x":0.72,"y":0.17},{"g":"Late","x":0.98,"y":0.14},
{"g":"Late","x":-0.88,"y":0.09},{"g":"Late","x":-0.55,"y":0.06},{"g":"Late","x":-0.3,"y":0.1},{"g":"Late","x":-0.02,"y":0.07},{"g":"Late","x":0.2,"y":0.09},{"g":"Late","x":0.42,"y":0.06},{"g":"Late","x":0.65,"y":0.1},{"g":"Late","x":0.88,"y":0.07},{"g":"Late","x":1.2,"y":0.09},
{"g":"Late","x":-0.72,"y":0.01},{"g":"Late","x":-0.4,"y":-0.02},{"g":"Late","x":-0.12,"y":0.02},{"g":"Late","x":0.1,"y":-0.01},{"g":"Late","x":0.35,"y":0.01},{"g":"Late","x":0.55,"y":-0.02},{"g":"Late","x":0.8,"y":0.02},{"g":"Late","x":1.05,"y":-0.01},
{"g":"Late","x":-0.6,"y":-0.07},{"g":"Late","x":-0.25,"y":-0.1},{"g":"Late","x":0.02,"y":-0.06},{"g":"Late","x":0.28,"y":-0.09},{"g":"Late","x":0.48,"y":-0.07},{"g":"Late","x":0.72,"y":-0.1},{"g":"Late","x":0.95,"y":-0.06},
{"g":"Late","x":-0.8,"y":-0.14},{"g":"Late","x":-0.45,"y":-0.17},{"g":"Late","x":-0.1,"y":-0.13},{"g":"Late","x":0.18,"y":-0.16},{"g":"Late","x":0.4,"y":-0.14},{"g":"Late","x":0.62,"y":-0.17},{"g":"Late","x":0.88,"y":-0.13},
{"g":"Late","x":-0.35,"y":-0.22},{"g":"Late","x":-0.05,"y":-0.25},{"g":"Late","x":0.25,"y":-0.21},{"g":"Late","x":0.52,"y":-0.24},{"g":"Late","x":0.78,"y":-0.22},{"g":"Late","x":1.1,"y":-0.25},
{"g":"Late","x":-0.55,"y":-0.29},{"g":"Late","x":-0.18,"y":-0.32},{"g":"Late","x":0.12,"y":-0.28},{"g":"Late","x":0.38,"y":-0.31},{"g":"Late","x":0.65,"y":-0.29},{"g":"Late","x":0.92,"y":-0.32},
{"g":"Late","x":-0.25,"y":-0.37},{"g":"Late","x":0.08,"y":-0.4},{"g":"Late","x":0.32,"y":-0.36},{"g":"Late","x":0.58,"y":-0.39},{"g":"Late","x":0.85,"y":-0.37},
{"g":"Late","x":-0.48,"y":-0.44},{"g":"Late","x":-0.1,"y":-0.47},{"g":"Late","x":0.2,"y":-0.43},{"g":"Late","x":0.48,"y":-0.46},{"g":"Late","x":0.75,"y":-0.44},
{"g":"Late","x":0.05,"y":-0.52},{"g":"Late","x":0.35,"y":-0.55},{"g":"Late","x":0.62,"y":-0.51},{"g":"Late","x":0.95,"y":-0.54},
{"g":"Late","x":-0.2,"y":-0.59},{"g":"Late","x":0.15,"y":-0.62},{"g":"Late","x":0.42,"y":-0.58},{"g":"Late","x":0.78,"y":-0.61},
{"g":"Late","x":0.25,"y":-0.67},{"g":"Late","x":0.55,"y":-0.7},{"g":"Late","x":0.88,"y":-0.66},
{"g":"Late","x":-0.05,"y":-0.74},{"g":"Late","x":0.38,"y":-0.77},{"g":"Late","x":0.7,"y":-0.73},
{"g":"Late","x":0.1,"y":-0.84},{"g":"Late","x":0.48,"y":-0.87},{"g":"Late","x":0.92,"y":-0.83},
{"g":"Late","x":-0.42,"y":1.33},{"g":"Late","x":-0.11,"y":1.28},{"g":"Late","x":0.19,"y":1.34},{"g":"Late","x":0.47,"y":1.27},{"g":"Late","x":0.78,"y":1.31},{"g":"Late","x":1.03,"y":1.26},
{"g":"Late","x":-0.33,"y":1.23},{"g":"Late","x":-0.04,"y":1.18},{"g":"Late","x":0.27,"y":1.24},{"g":"Late","x":0.57,"y":1.17},{"g":"Late","x":0.86,"y":1.21},{"g":"Late","x":-0.63,"y":1.16},
{"g":"Late","x":-0.41,"y":1.13},{"g":"Late","x":-0.12,"y":1.08},{"g":"Late","x":0.19,"y":1.14},{"g":"Late","x":0.49,"y":1.07},{"g":"Late","x":0.77,"y":1.11},{"g":"Late","x":1.04,"y":1.06},
{"g":"Late","x":-0.27,"y":1.03},{"g":"Late","x":0.03,"y":0.98},{"g":"Late","x":0.33,"y":1.04},{"g":"Late","x":0.63,"y":0.97},{"g":"Late","x":0.93,"y":1.01},{"g":"Late","x":-0.57,"y":0.96},
{"g":"Late","x":-0.48,"y":0.93},{"g":"Late","x":-0.18,"y":0.88},{"g":"Late","x":0.12,"y":0.94},{"g":"Late","x":0.43,"y":0.87},{"g":"Late","x":0.72,"y":0.91},{"g":"Late","x":0.97,"y":0.86},
{"g":"Late","x":-0.34,"y":0.83},{"g":"Late","x":-0.05,"y":0.78},{"g":"Late","x":0.26,"y":0.84},{"g":"Late","x":0.56,"y":0.77},{"g":"Late","x":0.87,"y":0.81},{"g":"Late","x":-0.64,"y":0.76},
{"g":"Late","x":-0.42,"y":0.73},{"g":"Late","x":-0.12,"y":0.68},{"g":"Late","x":0.18,"y":0.74},{"g":"Late","x":0.48,"y":0.67},{"g":"Late","x":0.78,"y":0.71},{"g":"Late","x":1.03,"y":0.66},
{"g":"Late","x":-0.26,"y":0.63},{"g":"Late","x":0.04,"y":0.58},{"g":"Late","x":0.34,"y":0.64},{"g":"Late","x":0.64,"y":0.57},{"g":"Late","x":0.94,"y":0.61},{"g":"Late","x":-0.56,"y":0.56},
{"g":"Late","x":-0.47,"y":0.53},{"g":"Late","x":-0.17,"y":0.48},{"g":"Late","x":0.13,"y":0.54},{"g":"Late","x":0.43,"y":0.47},{"g":"Late","x":0.73,"y":0.51},{"g":"Late","x":0.98,"y":0.46},
{"g":"Late","x":-0.33,"y":0.43},{"g":"Late","x":-0.03,"y":0.38},{"g":"Late","x":0.27,"y":0.44},{"g":"Late","x":0.57,"y":0.37},{"g":"Late","x":0.87,"y":0.41},{"g":"Late","x":-0.63,"y":0.36},
{"g":"Late","x":-0.41,"y":0.33},{"g":"Late","x":-0.11,"y":0.28},{"g":"Late","x":0.19,"y":0.34},{"g":"Late","x":0.49,"y":0.27},{"g":"Late","x":0.79,"y":0.31},{"g":"Late","x":1.04,"y":0.26},
{"g":"Late","x":-0.27,"y":0.23},{"g":"Late","x":0.03,"y":0.18},{"g":"Late","x":0.33,"y":0.24},{"g":"Late","x":0.63,"y":0.17},{"g":"Late","x":0.93,"y":0.21},{"g":"Late","x":-0.57,"y":0.16},
{"g":"Late","x":-0.48,"y":0.13},{"g":"Late","x":-0.18,"y":0.08},{"g":"Late","x":0.12,"y":0.14},{"g":"Late","x":0.42,"y":0.07},{"g":"Late","x":0.72,"y":0.11},{"g":"Late","x":0.97,"y":0.06},
{"g":"Late","x":-0.34,"y":0.03},{"g":"Late","x":-0.04,"y":-0.02},{"g":"Late","x":0.26,"y":0.04},{"g":"Late","x":0.56,"y":-0.03},{"g":"Late","x":0.86,"y":0.01},{"g":"Late","x":-0.64,"y":-0.04},
{"g":"Late","x":-0.42,"y":-0.07},{"g":"Late","x":-0.12,"y":-0.12},{"g":"Late","x":0.18,"y":-0.06},{"g":"Late","x":0.48,"y":-0.13},{"g":"Late","x":0.78,"y":-0.09},{"g":"Late","x":1.03,"y":-0.14},
{"g":"Late","x":-0.26,"y":-0.17},{"g":"Late","x":0.04,"y":-0.22},{"g":"Late","x":0.34,"y":-0.16},{"g":"Late","x":0.64,"y":-0.23},{"g":"Late","x":0.94,"y":-0.19},{"g":"Late","x":-0.56,"y":-0.24},
{"g":"Late","x":-0.47,"y":-0.27},{"g":"Late","x":-0.17,"y":-0.32},{"g":"Late","x":0.13,"y":-0.26},{"g":"Late","x":0.43,"y":-0.33},{"g":"Late","x":0.73,"y":-0.29},{"g":"Late","x":0.98,"y":-0.34},
{"g":"Late","x":-0.33,"y":-0.37},{"g":"Late","x":-0.03,"y":-0.42},{"g":"Late","x":0.27,"y":-0.36},{"g":"Late","x":0.57,"y":-0.43},{"g":"Late","x":0.87,"y":-0.39},{"g":"Late","x":-0.63,"y":-0.44},
{"g":"Mid","x":-0.39,"y":1.63},{"g":"Mid","x":0.94,"y":1.51},{"g":"Mid","x":0.53,"y":1.42},{"g":"Mid","x":-0.25,"y":1.46},{"g":"Mid","x":-0.05,"y":1.38},{"g":"Mid","x":0.7,"y":1.37},{"g":"Mid","x":-0.45,"y":1.3},{"g":"Mid","x":0.3,"y":1.31},{"g":"Mid","x":0.88,"y":1.28},{"g":"Mid","x":1.42,"y":1.3},{"g":"Mid","x":-0.62,"y":1.22},{"g":"Mid","x":0.1,"y":1.23},{"g":"Mid","x":0.62,"y":1.21},{"g":"Mid","x":-0.92,"y":1.15},{"g":"Mid","x":-0.3,"y":1.16},{"g":"Mid","x":0.45,"y":1.14},{"g":"Mid","x":0.8,"y":1.17},{"g":"Mid","x":1.62,"y":1.15},{"g":"Mid","x":-0.1,"y":1.08},{"g":"Mid","x":0.25,"y":1.07},{"g":"Mid","x":0.58,"y":1.09},{"g":"Mid","x":1.0,"y":1.06},{"g":"Mid","x":-0.55,"y":1.0},{"g":"Mid","x":0.05,"y":1.01},{"g":"Mid","x":0.4,"y":0.99},{"g":"Mid","x":0.72,"y":1.02},{"g":"Mid","x":1.62,"y":0.98},{"g":"Mid","x":-0.75,"y":0.92},{"g":"Mid","x":-0.2,"y":0.93},{"g":"Mid","x":0.18,"y":0.91},{"g":"Mid","x":0.5,"y":0.94},{"g":"Mid","x":0.85,"y":0.92},{"g":"Mid","x":-0.4,"y":0.85},{"g":"Mid","x":0.0,"y":0.86},{"g":"Mid","x":0.32,"y":0.84},{"g":"Mid","x":0.65,"y":0.87},{"g":"Mid","x":1.05,"y":0.85},{"g":"Mid","x":-1.45,"y":0.82},{"g":"Mid","x":-0.6,"y":0.78},{"g":"Mid","x":-0.08,"y":0.79},{"g":"Mid","x":0.22,"y":0.77},{"g":"Mid","x":0.55,"y":0.8},{"g":"Mid","x":0.9,"y":0.78},{"g":"Mid","x":-0.82,"y":0.7},{"g":"Mid","x":-0.28,"y":0.71},{"g":"Mid","x":0.12,"y":0.69},{"g":"Mid","x":0.42,"y":0.72},{"g":"Mid","x":0.78,"y":0.7},{"g":"Mid","x":1.62,"y":0.7},{"g":"Mid","x":1.54,"y":0.74},{"g":"Mid","x":-0.5,"y":0.62},{"g":"Mid","x":-0.02,"y":0.63},{"g":"Mid","x":0.3,"y":0.61},{"g":"Mid","x":0.62,"y":0.64},{"g":"Mid","x":0.95,"y":0.62},{"g":"Mid","x":-1.3,"y":0.56},{"g":"Mid","x":-0.7,"y":0.57},{"g":"Mid","x":0.18,"y":0.55},{"g":"Mid","x":0.5,"y":0.58},{"g":"Mid","x":0.85,"y":0.56},{"g":"Mid","x":1.57,"y":0.55},{"g":"Mid","x":-0.35,"y":0.48},{"g":"Mid","x":0.05,"y":0.49},{"g":"Mid","x":0.38,"y":0.47},{"g":"Mid","x":0.72,"y":0.5},{"g":"Mid","x":1.08,"y":0.48},{"g":"Mid","x":-1.01,"y":0.4},{"g":"Mid","x":-0.58,"y":0.41},{"g":"Mid","x":-0.12,"y":0.39},{"g":"Mid","x":0.25,"y":0.42},{"g":"Mid","x":0.6,"y":0.4},{"g":"Mid","x":0.9,"y":0.38},{"g":"Mid","x":-0.8,"y":0.32},{"g":"Mid","x":-0.3,"y":0.33},{"g":"Mid","x":0.12,"y":0.31},{"g":"Mid","x":0.48,"y":0.34},{"g":"Mid","x":0.8,"y":0.32},{"g":"Mid","x":1.15,"y":0.3},{"g":"Mid","x":-1.2,"y":0.26},{"g":"Mid","x":-0.91,"y":0.24},{"g":"Mid","x":-0.45,"y":0.25},{"g":"Mid","x":0.0,"y":0.23},{"g":"Mid","x":0.35,"y":0.26},{"g":"Mid","x":0.68,"y":0.24},{"g":"Mid","x":1.0,"y":0.22},{"g":"Mid","x":-1.11,"y":0.17},{"g":"Mid","x":-0.62,"y":0.18},{"g":"Mid","x":-0.15,"y":0.16},{"g":"Mid","x":0.22,"y":0.19},{"g":"Mid","x":0.58,"y":0.17},{"g":"Mid","x":0.92,"y":0.15},{"g":"Mid","x":-0.78,"y":0.08},{"g":"Mid","x":-0.35,"y":0.09},{"g":"Mid","x":0.08,"y":0.07},{"g":"Mid","x":0.45,"y":0.1},{"g":"Mid","x":0.8,"y":0.08},{"g":"Mid","x":1.25,"y":0.06},{"g":"Mid","x":-0.55,"y":0.0},{"g":"Mid","x":-0.05,"y":0.01},{"g":"Mid","x":0.3,"y":-0.01},{"g":"Mid","x":0.68,"y":0.02},{"g":"Mid","x":1.05,"y":0.0},{"g":"Mid","x":-1.31,"y":-0.05},{"g":"Mid","x":-0.72,"y":-0.08},{"g":"Mid","x":-0.22,"y":-0.07},{"g":"Mid","x":0.18,"y":-0.09},{"g":"Mid","x":0.55,"y":-0.06},{"g":"Mid","x":0.92,"y":-0.08},{"g":"Mid","x":-0.92,"y":-0.13},{"g":"Mid","x":-0.42,"y":-0.18},{"g":"Mid","x":0.05,"y":-0.17},{"g":"Mid","x":0.42,"y":-0.19},{"g":"Mid","x":0.78,"y":-0.16},{"g":"Mid","x":-0.6,"y":-0.28},{"g":"Mid","x":-0.15,"y":-0.27},{"g":"Mid","x":0.28,"y":-0.29},{"g":"Mid","x":0.65,"y":-0.26},{"g":"Mid","x":1.02,"y":-0.28},{"g":"Mid","x":-0.73,"y":-0.35},{"g":"Mid","x":0.12,"y":-0.36},{"g":"Mid","x":0.5,"y":-0.34},{"g":"Mid","x":0.88,"y":-0.37},{"g":"Mid","x":-0.8,"y":-0.45},{"g":"Mid","x":-0.32,"y":-0.44},{"g":"Mid","x":0.35,"y":-0.46},{"g":"Mid","x":0.72,"y":-0.43},{"g":"Mid","x":-0.29,"y":-0.56},{"g":"Mid","x":0.43,"y":-0.55},{"g":"Mid","x":0.89,"y":-0.54},{"g":"Mid","x":-0.62,"y":-0.57},{"g":"Mid","x":1.15,"y":-0.63},{"g":"Mid","x":0.41,"y":-0.77},{"g":"Mid","x":0.45,"y":-0.78},{"g":"Mid","x":0.68,"y":-0.86},{"g":"Mid","x":0.73,"y":-0.85},{"g":"Mid","x":0.5,"y":2.0},{"g":"Mid","x":1.42,"y":1.84},{"g":"Mid","x":-0.17,"y":-0.31},{"g":"Mid","x":-0.15,"y":-0.39},{"g":"Mid","x":-0.32,"y":-0.38},
{"g":"Mid","x":-0.33,"y":1.27},{"g":"Mid","x":0.14,"y":1.22},{"g":"Mid","x":0.47,"y":1.26},{"g":"Mid","x":0.93,"y":1.23},
{"g":"Mid","x":-0.06,"y":1.17},{"g":"Mid","x":0.27,"y":1.12},{"g":"Mid","x":0.74,"y":1.16},{"g":"Mid","x":-0.53,"y":1.13},
{"g":"Mid","x":-0.26,"y":1.07},{"g":"Mid","x":0.13,"y":1.02},{"g":"Mid","x":0.54,"y":1.06},{"g":"Mid","x":0.87,"y":1.03},
{"g":"Mid","x":-0.13,"y":0.97},{"g":"Mid","x":0.34,"y":0.92},{"g":"Mid","x":0.67,"y":0.96},{"g":"Mid","x":-0.46,"y":0.93},
{"g":"Mid","x":-0.34,"y":0.87},{"g":"Mid","x":0.07,"y":0.82},{"g":"Mid","x":0.53,"y":0.86},{"g":"Mid","x":0.94,"y":0.83},
{"g":"Mid","x":-0.07,"y":0.77},{"g":"Mid","x":0.33,"y":0.72},{"g":"Mid","x":0.66,"y":0.76},{"g":"Mid","x":-0.54,"y":0.73},
{"g":"Mid","x":-0.27,"y":0.67},{"g":"Mid","x":0.14,"y":0.62},{"g":"Mid","x":0.47,"y":0.66},{"g":"Mid","x":0.86,"y":0.63},
{"g":"Mid","x":-0.14,"y":0.57},{"g":"Mid","x":0.27,"y":0.52},{"g":"Mid","x":0.73,"y":0.56},{"g":"Mid","x":-0.47,"y":0.53},
{"g":"Mid","x":-0.33,"y":0.47},{"g":"Mid","x":0.06,"y":0.42},{"g":"Mid","x":0.54,"y":0.46},{"g":"Mid","x":0.93,"y":0.43},
{"g":"Mid","x":-0.06,"y":0.37},{"g":"Mid","x":0.34,"y":0.32},{"g":"Mid","x":0.67,"y":0.36},{"g":"Mid","x":-0.53,"y":0.33},
{"g":"Mid","x":-0.26,"y":0.27},{"g":"Mid","x":0.13,"y":0.22},{"g":"Mid","x":0.46,"y":0.26},{"g":"Mid","x":0.87,"y":0.23},
{"g":"Mid","x":-0.13,"y":0.17},{"g":"Mid","x":0.26,"y":0.12},{"g":"Mid","x":0.74,"y":0.16},{"g":"Mid","x":-0.46,"y":0.13},
{"g":"Mid","x":-0.34,"y":0.07},{"g":"Mid","x":0.07,"y":0.02},{"g":"Mid","x":0.53,"y":0.06},{"g":"Mid","x":0.94,"y":0.03},
{"g":"Mid","x":-0.07,"y":-0.03},{"g":"Mid","x":0.33,"y":-0.08},{"g":"Mid","x":0.66,"y":-0.04},{"g":"Mid","x":-0.54,"y":-0.07},
{"g":"Mid","x":-0.27,"y":-0.13},{"g":"Mid","x":0.14,"y":-0.18},{"g":"Mid","x":0.47,"y":-0.14},{"g":"Mid","x":0.86,"y":-0.17},
{"g":"Mid","x":-0.14,"y":-0.23},{"g":"Mid","x":0.27,"y":-0.28},{"g":"Mid","x":0.73,"y":-0.24},{"g":"Mid","x":-0.47,"y":-0.27},
{"g":"Mid","x":-0.33,"y":-0.33},{"g":"Mid","x":0.06,"y":-0.38},{"g":"Mid","x":0.54,"y":-0.34},{"g":"Mid","x":0.93,"y":-0.37},
{"g":"Mid","x":-0.06,"y":-0.43},{"g":"Mid","x":0.34,"y":-0.48},{"g":"Mid","x":0.67,"y":-0.44},{"g":"Mid","x":-0.53,"y":-0.47},
{"g":"Early","x":0.6,"y":2.0},{"g":"Early","x":0.5,"y":1.6},{"g":"Early","x":1.81,"y":1.2},{"g":"Early","x":1.2,"y":0.9},{"g":"Early","x":1.5,"y":0.9},{"g":"Early","x":1.31,"y":0.8},{"g":"Early","x":1.55,"y":0.8},{"g":"Early","x":1.2,"y":0.6},{"g":"Early","x":1.5,"y":0.6},{"g":"Early","x":1.9,"y":0.6},{"g":"Early","x":1.2,"y":0.5},{"g":"Early","x":1.31,"y":0.5},{"g":"Early","x":1.6,"y":0.5},{"g":"Early","x":1.55,"y":0.45},{"g":"Early","x":1.55,"y":0.35},{"g":"Early","x":1.65,"y":0.35},{"g":"Early","x":1.31,"y":0.3},{"g":"Early","x":0.9,"y":0.3},{"g":"Early","x":1.65,"y":0.2},{"g":"Early","x":1.1,"y":0.2},{"g":"Early","x":0.85,"y":0.1},{"g":"Early","x":1.4,"y":0.1},{"g":"Early","x":1.0,"y":0.0},{"g":"Early","x":1.2,"y":0.0},{"g":"Early","x":0.75,"y":-0.1},{"g":"Early","x":1.35,"y":-0.1},{"g":"Early","x":1.55,"y":-0.12},{"g":"Early","x":1.65,"y":-0.12},{"g":"Early","x":1.31,"y":-0.22},{"g":"Early","x":1.5,"y":-0.23},{"g":"Early","x":1.2,"y":-0.36},{"g":"Early","x":1.11,"y":-0.37},{"g":"Early","x":1.31,"y":-0.5},{"g":"Early","x":1.37,"y":-0.5},{"g":"Early","x":1.5,"y":-0.5},{"g":"Early","x":1.71,"y":-0.61},{"g":"Early","x":0.61,"y":-0.61},{"g":"Early","x":0.9,"y":-0.6},{"g":"Early","x":0.61,"y":-0.69},{"g":"Early","x":0.3,"y":-0.7},{"g":"Early","x":0.7,"y":-0.7},{"g":"Early","x":-0.2,"y":-0.71},{"g":"Early","x":1.11,"y":-0.71},{"g":"Early","x":1.0,"y":-0.8},{"g":"Early","x":0.2,"y":-0.9},{"g":"Early","x":-0.2,"y":-1.0},{"g":"Early","x":-0.1,"y":-1.0},{"g":"Early","x":0.2,"y":-1.0},{"g":"Early","x":0.7,"y":-1.0},{"g":"Early","x":0.9,"y":-1.01},{"g":"Early","x":0.0,"y":-1.11},{"g":"Early","x":0.3,"y":-1.31},{"g":"Early","x":0.95,"y":0.7},{"g":"Early","x":0.45,"y":0.4},{"g":"Early","x":0.35,"y":0.25},{"g":"Early","x":0.1,"y":0.95},{"g":"Early","x":-0.3,"y":0.6},{"g":"Early","x":0.55,"y":1.1},{"g":"Early","x":0.8,"y":0.55},{"g":"Early","x":1.05,"y":0.45},{"g":"Early","x":0.65,"y":-0.2},{"g":"Early","x":0.3,"y":-0.3},{"g":"Early","x":-0.1,"y":0.1},{"g":"Early","x":0.85,"y":-0.35},{"g":"Early","x":1.0,"y":0.85},{"g":"Early","x":0.7,"y":1.2}
],
"sb":[{"h":"Late","x":0.335,"y":0.52,"xlo":0.29,"xhi":0.39,"ylo":0.46,"yhi":0.56},{"h":"Mid","x":0.48,"y":0.41,"xlo":0.42,"xhi":0.55,"ylo":0.35,"yhi":0.47},{"h":"Early","x":0.7,"y":0.25,"xlo":0.59,"xhi":0.82,"ylo":0.14,"yhi":0.35}]
},
"spacing":86,
"bounds":"flush",
"vconcat":[
{"width":755,"height":760,
"resolve":{"axis":{"x":"independent","y":"independent"}},
"layer":[
{"data":{"name":"pa"},"mark":{"type":"circle","size":62,"opacity":0.38},
"encoding":{
"x":{"field":"x","type":"quantitative","scale":{"domain":[493,9603],"reverse":true,"nice":false,"zero":false},"axis":{"orient":"bottom","values":[9000,8000,7000,6000,5000,4000,3000,2000,1000],"format":"d","title":"Millennium (Years BP)","titlePadding":2,"labelFontSize":22.5,"titleFontSize":30}},
"y":{"field":"y","type":"quantitative","scale":{"domain":[-3.3,3.3],"reverse":true,"nice":false,"zero":false},"axis":{"values":[-3,-2.5,-2,-1.5,-1,-0.5,0,0.5,1,1.5,2,2.5,3],"labelExpr":"datum.value % 1 === 0 ? replace(format(datum.value, '.1f'), '−', '-') : ''","title":"δ¹⁸O (‰) VPDB","titlePadding":12,"labelFontSize":22.5,"titleFontSize":30}},
"color":{"field":"m","type":"nominal","scale":{"domain":[9,8,7,6,5,4,3,2,1],"range":["#3a0cc0","#5a3fd0","#2d64c8","#1a8296","#28be88","#44e07a","#44e018","#aae022","#f2e400"]},"legend":null}}},
{"data":{"name":"sa"},"mark":{"type":"point","shape":"circle","filled":true,"size":230,"fill":"#a5b0ae","stroke":"#111","strokeWidth":1.8,"opacity":1},
"encoding":{"x":{"field":"x","type":"quantitative","axis":null},"y":{"field":"mean","type":"quantitative","axis":null}}},
{"data":{"name":"sa"},"mark":{"type":"rule","strokeWidth":2.2,"color":"#111"},
"encoding":{"x":{"field":"x","type":"quantitative","axis":null},"y":{"field":"lo","type":"quantitative","axis":null},"y2":{"field":"hi"}}},
{"data":{"name":"sa"},"mark":{"type":"tick","orient":"horizontal","size":20,"thickness":2.2,"color":"#111","opacity":1},
"encoding":{"x":{"field":"x","type":"quantitative","axis":null},"y":{"field":"lo","type":"quantitative","axis":null}}},
{"data":{"name":"sa"},"mark":{"type":"tick","orient":"horizontal","size":20,"thickness":2.2,"color":"#111","opacity":1},
"encoding":{"x":{"field":"x","type":"quantitative","axis":null},"y":{"field":"hi","type":"quantitative","axis":null}}},
{"data":{"values":[{"x":9509,"x2":967,"y":3.183}]},"mark":{"type":"rule","strokeWidth":2,"color":"#111"},
"encoding":{"x":{"field":"x","type":"quantitative","axis":null},"x2":{"field":"x2"},"y":{"field":"y","type":"quantitative","axis":null}}},
{"data":{"values":[{"x":8144},{"x":4177},{"x":967}]},"mark":{"type":"rule","strokeWidth":2,"color":"#111"},
"encoding":{"x":{"field":"x","type":"quantitative","axis":null},"y":{"datum":3.108,"type":"quantitative","axis":null},"y2":{"datum":3.258}}},
{"data":{"values":[{"t":"Early","x":8867,"y":2.82},{"t":"Holocene","x":8867,"y":3.085},{"t":"Mid","x":6181,"y":2.86},{"t":"Holocene","x":6181,"y":3.11},{"t":"Late","x":2554,"y":2.86},{"t":"Holocene","x":2554,"y":3.11}]},
"mark":{"type":"text","fontSize":24,"align":"center","baseline":"alphabetic","color":"#111"},
"encoding":{"x":{"field":"x","type":"quantitative","axis":null},"y":{"field":"y","type":"quantitative","axis":null},"text":{"field":"t"}}},
{"data":{"values":[{"t":"A","x":9320,"y":-3.0}]},"mark":{"type":"text","fontSize":31,"align":"center","baseline":"alphabetic","color":"#111"},
"encoding":{"x":{"field":"x","type":"quantitative","axis":{"orient":"top","labels":false,"ticks":false,"title":null,"domain":true}},"y":{"field":"y","type":"quantitative","axis":null},"text":{"field":"t"}}},
{"data":{"values":[{"t":"SST","x":8710,"y":-2.4}]},"mark":{"type":"text","fontSize":28,"align":"center","baseline":"alphabetic","color":"#111"},
"encoding":{"x":{"field":"x","type":"quantitative","axis":null},"y":{"field":"y","type":"quantitative","axis":null},"text":{"field":"t"}}},
{"data":{"values":[{"x":8759,"y":-1.483,"y2":-2.22}]},"mark":{"type":"rule","strokeWidth":2,"color":"#111"},
"encoding":{"x":{"field":"x","type":"quantitative","axis":null},"y":{"field":"y","type":"quantitative","axis":null},"y2":{"field":"y2"}}},
{"data":{"values":[{"x":8759,"y":-2.272}]},"mark":{"type":"point","shape":"M0,-1L0.55,1L-0.55,1Z","filled":true,"size":100,"color":"#111","opacity":1,"angle":0},
"encoding":{"x":{"field":"x","type":"quantitative","axis":null},"y":{"field":"y","type":"quantitative","axis":null}}}
]},
{"width":755,"height":570,
"resolve":{"axis":{"x":"independent","y":"independent"}},
"layer":[
{"data":{"name":"pb"},"mark":{"type":"point","shape":"circle","filled":false,"size":80,"strokeWidth":1.1,"opacity":0.55},
"encoding":{
"x":{"field":"x","type":"quantitative","scale":{"domain":[-2.2,2.16],"nice":false,"zero":false},"axis":{"orient":"bottom","values":[-2,-1,0,1,2],"labelExpr":"replace(format(datum.value, 'd'), '−', '-')","title":"δ¹⁸O (‰) shell VPDB","titlePadding":8,"labelFontSize":21,"titleFontSize":27}},
"y":{"field":"y","type":"quantitative","scale":{"domain":[-2.2,2.2],"nice":false,"zero":false},"axis":{"values":[-2,-1,0,1,2],"labelExpr":"replace(format(datum.value, 'd'), '−', '-')","title":"δ¹³C (‰) shell VPDB","titlePadding":14,"labelFontSize":21,"titleFontSize":27}},
"stroke":{"field":"g","type":"nominal","scale":{"range":["#2ecc55","#6464f0","#d9400e"]},"legend":null}}},
{"data":{"name":"sb"},"mark":{"type":"circle","size":170,"opacity":1},
"encoding":{"x":{"field":"x","type":"quantitative","axis":null},"y":{"field":"y","type":"quantitative","axis":null},
"fill":{"field":"h","type":"nominal","scale":{"domain":["Early","Mid","Late"],"range":["#2ecc55","#d9400e","#6464f0"]},
"legend":{"title":"Holocene interval","orient":"none","legendX":602,"legendY":1293,"padding":0,"titleFontSize":19,"titleFontWeight":"normal","titleColor":"#111","labelFontSize":15,"labelColor":"#111","symbolSize":230,"symbolType":"circle","symbolStrokeWidth":0,"symbolOffset":8,"rowPadding":13,"titlePadding":14,"labelOffset":14}}}},
{"data":{"name":"sb"},"mark":{"type":"rule","strokeWidth":2.2,"color":"#111"},
"encoding":{"x":{"field":"xlo","type":"quantitative","axis":null},"x2":{"field":"xhi"},"y":{"field":"y","type":"quantitative","axis":null}}},
{"data":{"name":"sb"},"mark":{"type":"rule","strokeWidth":2.2,"color":"#111"},
"encoding":{"x":{"field":"x","type":"quantitative","axis":null},"y":{"field":"ylo","type":"quantitative","axis":null},"y2":{"field":"yhi"}}},
{"data":{"name":"sb"},"mark":{"type":"tick","orient":"vertical","size":12,"thickness":2.2,"color":"#111","opacity":1},
"encoding":{"x":{"field":"xlo","type":"quantitative","axis":null},"y":{"field":"y","type":"quantitative","axis":null}}},
{"data":{"name":"sb"},"mark":{"type":"tick","orient":"vertical","size":12,"thickness":2.2,"color":"#111","opacity":1},
"encoding":{"x":{"field":"xhi","type":"quantitative","axis":null},"y":{"field":"y","type":"quantitative","axis":null}}},
{"data":{"name":"sb"},"mark":{"type":"tick","orient":"horizontal","size":14,"thickness":2.2,"color":"#111","opacity":1},
"encoding":{"x":{"field":"x","type":"quantitative","axis":null},"y":{"field":"ylo","type":"quantitative","axis":null}}},
{"data":{"name":"sb"},"mark":{"type":"tick","orient":"horizontal","size":14,"thickness":2.2,"color":"#111","opacity":1},
"encoding":{"x":{"field":"x","type":"quantitative","axis":null},"y":{"field":"yhi","type":"quantitative","axis":null}}},
{"data":{"values":[{"t":"B","x":-2.074,"y":1.935}]},"mark":{"type":"text","fontSize":31,"align":"center","baseline":"alphabetic","color":"#111"},
"encoding":{"x":{"field":"x","type":"quantitative","axis":{"orient":"top","labels":false,"ticks":false,"title":null,"domain":true}},"y":{"field":"y","type":"quantitative","axis":null},"text":{"field":"t"}}},
{"data":{"values":[{"t":"upwelling","x":-1.771,"y":0.974},{"t":"SST","x":-0.831,"y":-1.88},{"t":"salinity","x":0.58,"y":-2.08}]},"mark":{"type":"text","fontSize":28,"align":"center","baseline":"alphabetic","color":"#111"},
"encoding":{"x":{"field":"x","type":"quantitative","axis":null},"y":{"field":"y","type":"quantitative","axis":null},"text":{"field":"t"}}},
{"data":{"values":[{"x":-1.783,"y":1.92,"y2":1.21}]},"mark":{"type":"rule","strokeWidth":2,"color":"#111"},
"encoding":{"x":{"field":"x","type":"quantitative","axis":null},"y":{"field":"y","type":"quantitative","axis":null},"y2":{"field":"y2"}}},
{"data":{"values":[{"x":0.226,"x2":-0.57,"y":-1.825},{"x":-0.61,"x2":0.19,"y":-2.018}]},"mark":{"type":"rule","strokeWidth":2,"color":"#111"},
"encoding":{"x":{"field":"x","type":"quantitative","axis":null},"x2":{"field":"x2"},"y":{"field":"y","type":"quantitative","axis":null}}},
{"data":{"values":[{"x":-1.783,"y":1.226}]},"mark":{"type":"point","shape":"M0,-1L0.55,1L-0.55,1Z","filled":true,"size":100,"color":"#111","opacity":1,"angle":180},
"encoding":{"x":{"field":"x","type":"quantitative","axis":null},"y":{"field":"y","type":"quantitative","axis":null}}},
{"data":{"values":[{"x":-0.58,"y":-1.825}]},"mark":{"type":"point","shape":"M0,-1L0.55,1L-0.55,1Z","filled":true,"size":100,"color":"#111","opacity":1,"angle":270},
"encoding":{"x":{"field":"x","type":"quantitative","axis":null},"y":{"field":"y","type":"quantitative","axis":null}}},
{"data":{"values":[{"x":0.2,"y":-2.018}]},"mark":{"type":"point","shape":"M0,-1L0.55,1L-0.55,1Z","filled":true,"size":100,"color":"#111","opacity":1,"angle":90},
"encoding":{"x":{"field":"x","type":"quantitative","axis":null},"y":{"field":"y","type":"quantitative","axis":null}}}
]}
]
}
